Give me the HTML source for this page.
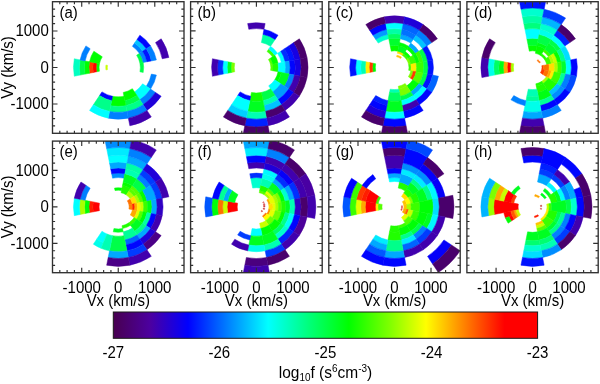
<!DOCTYPE html><html><head><meta charset="utf-8"><style>html,body{margin:0;padding:0;background:#fff;}svg{display:block;filter:blur(0.25px);}text{font-family:"Liberation Sans",sans-serif;fill:#000;}</style></head><body>
<svg width="600" height="384" viewBox="0 0 600 384">
<defs>
<clipPath id="c0"><rect x="52.50" y="1.70" width="131.50" height="131.60"/></clipPath>
<clipPath id="c1"><rect x="190.60" y="1.70" width="131.60" height="131.60"/></clipPath>
<clipPath id="c2"><rect x="328.80" y="1.70" width="131.40" height="131.60"/></clipPath>
<clipPath id="c3"><rect x="466.90" y="1.70" width="131.30" height="131.60"/></clipPath>
<clipPath id="c4"><rect x="52.50" y="141.10" width="131.50" height="131.60"/></clipPath>
<clipPath id="c5"><rect x="190.60" y="141.10" width="131.60" height="131.60"/></clipPath>
<clipPath id="c6"><rect x="328.80" y="141.10" width="131.40" height="131.60"/></clipPath>
<clipPath id="c7"><rect x="466.90" y="141.10" width="131.30" height="131.60"/></clipPath>
<linearGradient id="cb" x1="0" x2="1" y1="0" y2="0">
<stop offset="0.000" stop-color="#480050"/>
<stop offset="0.087" stop-color="#4c00a0"/>
<stop offset="0.176" stop-color="#0000ff"/>
<stop offset="0.270" stop-color="#0080ff"/>
<stop offset="0.365" stop-color="#00ffff"/>
<stop offset="0.463" stop-color="#00ff78"/>
<stop offset="0.555" stop-color="#00ff00"/>
<stop offset="0.652" stop-color="#80ff00"/>
<stop offset="0.737" stop-color="#ffff00"/>
<stop offset="0.840" stop-color="#ff7000"/>
<stop offset="0.922" stop-color="#ff0000"/>
<stop offset="1.000" stop-color="#ff0000"/>
</linearGradient>
</defs>
<g clip-path="url(#c0)">
<path d="M105.95 65.05 A12.54 12.54 0 0 0 105.95 69.95 L107.57 69.62 A10.89 10.89 0 0 1 107.57 65.38 Z" fill="#c8ff00" stroke="#c8ff00" stroke-width="0.5"/>
<path d="M96.58 63.19 A22.09 22.09 0 0 0 96.58 71.81 L99.44 71.24 A19.18 19.18 0 0 1 99.44 63.76 Z" fill="#00ff00" stroke="#00ff00" stroke-width="0.5"/>
<path d="M93.29 62.53 A25.45 25.45 0 0 0 93.29 72.47 L96.58 71.81 A22.09 22.09 0 0 1 96.58 63.19 Z" fill="#ff0000" stroke="#ff0000" stroke-width="0.5"/>
<path d="M89.49 61.78 A29.32 29.32 0 0 0 89.49 73.22 L93.29 72.47 A25.45 25.45 0 0 1 93.29 62.53 Z" fill="#ff3900" stroke="#ff3900" stroke-width="0.5"/>
<path d="M85.12 60.91 A33.77 33.77 0 0 0 85.12 74.09 L89.49 73.22 A29.32 29.32 0 0 1 89.49 61.78 Z" fill="#00ff00" stroke="#00ff00" stroke-width="0.5"/>
<path d="M80.09 59.91 A38.91 38.91 0 0 0 80.09 75.09 L85.12 74.09 A33.77 33.77 0 0 1 85.12 60.91 Z" fill="#00ff48" stroke="#00ff48" stroke-width="0.5"/>
<path d="M74.29 58.76 A44.82 44.82 0 0 0 74.29 76.24 L80.09 75.09 A38.91 38.91 0 0 1 80.09 59.91 Z" fill="#00ffc1" stroke="#00ffc1" stroke-width="0.5"/>
<path d="M93.87 51.21 A29.32 29.32 0 0 0 89.49 61.78 L99.44 63.76 A19.18 19.18 0 0 1 102.30 56.85 Z" fill="#00ff00" stroke="#00ff00" stroke-width="0.5"/>
<path d="M85.90 45.88 A38.91 38.91 0 0 0 80.09 59.91 L85.12 60.91 A33.77 33.77 0 0 1 90.17 48.74 Z" fill="#0080ff" stroke="#0080ff" stroke-width="0.5"/>
<path d="M142.63 51.21 A29.32 29.32 0 0 0 134.54 43.12 L132.39 46.34 A25.45 25.45 0 0 1 139.41 53.36 Z" fill="#0080ff" stroke="#0080ff" stroke-width="0.5"/>
<path d="M146.33 48.74 A33.77 33.77 0 0 0 137.01 39.42 L134.54 43.12 A29.32 29.32 0 0 1 142.63 51.21 Z" fill="#00c3ff" stroke="#00c3ff" stroke-width="0.5"/>
<path d="M150.60 45.88 A38.91 38.91 0 0 0 139.87 35.15 L137.01 39.42 A33.77 33.77 0 0 1 146.33 48.74 Z" fill="#0005ff" stroke="#0005ff" stroke-width="0.5"/>
<path d="M143.21 62.53 A25.45 25.45 0 0 0 139.41 53.36 L136.62 55.23 A22.09 22.09 0 0 1 139.92 63.19 Z" fill="#00ff48" stroke="#00ff48" stroke-width="0.5"/>
<path d="M147.01 61.78 A29.32 29.32 0 0 0 142.63 51.21 L139.41 53.36 A25.45 25.45 0 0 1 143.21 62.53 Z" fill="#0080ff" stroke="#0080ff" stroke-width="0.5"/>
<path d="M151.38 60.91 A33.77 33.77 0 0 0 146.33 48.74 L142.63 51.21 A29.32 29.32 0 0 1 147.01 61.78 Z" fill="#0013ff" stroke="#0013ff" stroke-width="0.5"/>
<path d="M156.41 59.91 A38.91 38.91 0 0 0 150.60 45.88 L146.33 48.74 A33.77 33.77 0 0 1 151.38 60.91 Z" fill="#0080ff" stroke="#0080ff" stroke-width="0.5"/>
<path d="M168.89 57.43 A51.64 51.64 0 0 0 161.18 38.81 L155.52 42.60 A44.82 44.82 0 0 1 162.21 58.76 Z" fill="#4100ae" stroke="#4100ae" stroke-width="0.5"/>
<path d="M143.21 72.47 A25.45 25.45 0 0 0 143.21 62.53 L139.92 63.19 A22.09 22.09 0 0 1 139.92 71.81 Z" fill="#00ff48" stroke="#00ff48" stroke-width="0.5"/>
<path d="M150.60 89.12 A38.91 38.91 0 0 0 156.41 75.09 L151.38 74.09 A33.77 33.77 0 0 1 146.33 86.26 Z" fill="#0080ff" stroke="#0080ff" stroke-width="0.5"/>
<path d="M139.87 99.85 A38.91 38.91 0 0 0 150.60 89.12 L142.63 83.79 A29.32 29.32 0 0 1 134.54 91.88 Z" fill="#00ffff" stroke="#00ffff" stroke-width="0.5"/>
<path d="M143.15 104.77 A44.82 44.82 0 0 0 155.52 92.40 L150.60 89.12 A38.91 38.91 0 0 1 139.87 99.85 Z" fill="#0080ff" stroke="#0080ff" stroke-width="0.5"/>
<path d="M146.94 110.43 A51.64 51.64 0 0 0 161.18 96.19 L155.52 92.40 A44.82 44.82 0 0 1 143.15 104.77 Z" fill="#1f00d9" stroke="#1f00d9" stroke-width="0.5"/>
<path d="M124.84 100.63 A33.77 33.77 0 0 0 137.01 95.58 L132.39 88.66 A25.45 25.45 0 0 1 123.22 92.46 Z" fill="#00ff00" stroke="#00ff00" stroke-width="0.5"/>
<path d="M125.84 105.66 A38.91 38.91 0 0 0 139.87 99.85 L137.01 95.58 A33.77 33.77 0 0 1 124.84 100.63 Z" fill="#00ff48" stroke="#00ff48" stroke-width="0.5"/>
<path d="M126.99 111.46 A44.82 44.82 0 0 0 143.15 104.77 L139.87 99.85 A38.91 38.91 0 0 1 125.84 105.66 Z" fill="#00ff8a" stroke="#00ff8a" stroke-width="0.5"/>
<path d="M128.32 118.14 A51.64 51.64 0 0 0 146.94 110.43 L143.15 104.77 A44.82 44.82 0 0 1 126.99 111.46 Z" fill="#0080ff" stroke="#0080ff" stroke-width="0.5"/>
<path d="M129.85 125.84 A59.48 59.48 0 0 0 151.30 116.96 L146.94 110.43 A51.64 51.64 0 0 1 128.32 118.14 Z" fill="#4100ae" stroke="#4100ae" stroke-width="0.5"/>
<path d="M110.66 105.66 A38.91 38.91 0 0 0 125.84 105.66 L123.97 96.26 A29.32 29.32 0 0 1 112.53 96.26 Z" fill="#00ff00" stroke="#00ff00" stroke-width="0.5"/>
<path d="M109.51 111.46 A44.82 44.82 0 0 0 126.99 111.46 L125.84 105.66 A38.91 38.91 0 0 1 110.66 105.66 Z" fill="#00ff8a" stroke="#00ff8a" stroke-width="0.5"/>
<path d="M108.18 118.14 A51.64 51.64 0 0 0 128.32 118.14 L126.99 111.46 A44.82 44.82 0 0 1 109.51 111.46 Z" fill="#0080ff" stroke="#0080ff" stroke-width="0.5"/>
<path d="M99.49 95.58 A33.77 33.77 0 0 0 111.66 100.63 L112.53 96.26 A29.32 29.32 0 0 1 101.96 91.88 Z" fill="#0005ff" stroke="#0005ff" stroke-width="0.5"/>
<path d="M93.35 104.77 A44.82 44.82 0 0 0 109.51 111.46 L111.66 100.63 A33.77 33.77 0 0 1 99.49 95.58 Z" fill="#00ff8a" stroke="#00ff8a" stroke-width="0.5"/>
<path d="M89.56 110.43 A51.64 51.64 0 0 0 108.18 118.14 L109.51 111.46 A44.82 44.82 0 0 1 93.35 104.77 Z" fill="#00ffff" stroke="#00ffff" stroke-width="0.5"/>
</g>
<rect x="52.50" y="1.70" width="131.50" height="131.60" fill="none" stroke="#303030" stroke-width="1.35"/>
<path d="M59.81 1.70v2.60M59.81 133.30v-2.60M52.50 125.94h2.60M184.00 125.94h-2.60M67.11 1.70v2.60M67.11 133.30v-2.60M52.50 118.64h2.60M184.00 118.64h-2.60M74.42 1.70v2.60M74.42 133.30v-2.60M52.50 111.33h2.60M184.00 111.33h-2.60M81.72 1.70v5.00M81.72 133.30v-5.00M52.50 104.03h5.00M184.00 104.03h-5.00M89.03 1.70v2.60M89.03 133.30v-2.60M52.50 96.72h2.60M184.00 96.72h-2.60M96.33 1.70v2.60M96.33 133.30v-2.60M52.50 89.42h2.60M184.00 89.42h-2.60M103.64 1.70v2.60M103.64 133.30v-2.60M52.50 82.11h2.60M184.00 82.11h-2.60M110.94 1.70v2.60M110.94 133.30v-2.60M52.50 74.81h2.60M184.00 74.81h-2.60M118.25 1.70v5.00M118.25 133.30v-5.00M52.50 67.50h5.00M184.00 67.50h-5.00M125.56 1.70v2.60M125.56 133.30v-2.60M52.50 60.19h2.60M184.00 60.19h-2.60M132.86 1.70v2.60M132.86 133.30v-2.60M52.50 52.89h2.60M184.00 52.89h-2.60M140.17 1.70v2.60M140.17 133.30v-2.60M52.50 45.58h2.60M184.00 45.58h-2.60M147.47 1.70v2.60M147.47 133.30v-2.60M52.50 38.28h2.60M184.00 38.28h-2.60M154.78 1.70v5.00M154.78 133.30v-5.00M52.50 30.97h5.00M184.00 30.97h-5.00M162.08 1.70v2.60M162.08 133.30v-2.60M52.50 23.67h2.60M184.00 23.67h-2.60M169.39 1.70v2.60M169.39 133.30v-2.60M52.50 16.36h2.60M184.00 16.36h-2.60M176.69 1.70v2.60M176.69 133.30v-2.60M52.50 9.06h2.60M184.00 9.06h-2.60" stroke="#303030" stroke-width="1.15" fill="none"/>
<text transform="translate(59.50 17.50) scale(1 1.070)" font-size="15">(a)</text>
<text transform="translate(48.80 36.37) scale(1 1.070)" font-size="15" text-anchor="end">1000</text>
<text transform="translate(48.80 72.90) scale(1 1.070)" font-size="15" text-anchor="end">0</text>
<text transform="translate(48.80 109.43) scale(1 1.070)" font-size="15" text-anchor="end">-1000</text>
<text transform="translate(13.20 67.50) rotate(-90) scale(1 1.070)" font-size="15" text-anchor="middle">Vy (km/s)</text>
<g clip-path="url(#c1)">
<path d="M231.44 62.53 A25.45 25.45 0 0 0 231.44 72.47 L234.73 71.81 A22.09 22.09 0 0 1 234.73 63.19 Z" fill="#7dff00" stroke="#7dff00" stroke-width="0.5"/>
<path d="M227.64 61.78 A29.32 29.32 0 0 0 227.64 73.22 L231.44 72.47 A25.45 25.45 0 0 1 231.44 62.53 Z" fill="#00ff21" stroke="#00ff21" stroke-width="0.5"/>
<path d="M223.27 60.91 A33.77 33.77 0 0 0 223.27 74.09 L227.64 73.22 A29.32 29.32 0 0 1 227.64 61.78 Z" fill="#00ffff" stroke="#00ffff" stroke-width="0.5"/>
<path d="M218.24 59.91 A38.91 38.91 0 0 0 218.24 75.09 L223.27 74.09 A33.77 33.77 0 0 1 223.27 60.91 Z" fill="#002eff" stroke="#002eff" stroke-width="0.5"/>
<path d="M212.44 58.76 A44.82 44.82 0 0 0 212.44 76.24 L218.24 75.09 A38.91 38.91 0 0 1 218.24 59.91 Z" fill="#4100ae" stroke="#4100ae" stroke-width="0.5"/>
<path d="M265.14 23.54 A44.82 44.82 0 0 0 247.66 23.54 L248.81 29.34 A38.91 38.91 0 0 1 263.99 29.34 Z" fill="#4100ae" stroke="#4100ae" stroke-width="0.5"/>
<path d="M275.16 39.42 A33.77 33.77 0 0 0 262.99 34.37 L261.37 42.54 A25.45 25.45 0 0 1 270.54 46.34 Z" fill="#00ffa5" stroke="#00ffa5" stroke-width="0.5"/>
<path d="M278.02 35.15 A38.91 38.91 0 0 0 263.99 29.34 L262.99 34.37 A33.77 33.77 0 0 1 275.16 39.42 Z" fill="#0005ff" stroke="#0005ff" stroke-width="0.5"/>
<path d="M274.77 55.23 A22.09 22.09 0 0 0 268.67 49.13 L267.05 51.55 A19.18 19.18 0 0 1 272.35 56.85 Z" fill="#3bff00" stroke="#3bff00" stroke-width="0.5"/>
<path d="M277.56 53.36 A25.45 25.45 0 0 0 270.54 46.34 L268.67 49.13 A22.09 22.09 0 0 1 274.77 55.23 Z" fill="#00ffff" stroke="#00ffff" stroke-width="0.5"/>
<path d="M272.73 64.25 A16.65 16.65 0 0 0 270.24 58.25 L268.42 59.47 A14.45 14.45 0 0 1 270.57 64.68 Z" fill="#56ff00" stroke="#56ff00" stroke-width="0.5"/>
<path d="M278.07 63.19 A22.09 22.09 0 0 0 274.77 55.23 L270.24 58.25 A16.65 16.65 0 0 1 272.73 64.25 Z" fill="#00ff00" stroke="#00ff00" stroke-width="0.5"/>
<path d="M285.16 61.78 A29.32 29.32 0 0 0 280.78 51.21 L277.56 53.36 A25.45 25.45 0 0 1 281.36 62.53 Z" fill="#00ffff" stroke="#00ffff" stroke-width="0.5"/>
<path d="M289.53 60.91 A33.77 33.77 0 0 0 284.48 48.74 L280.78 51.21 A29.32 29.32 0 0 1 285.16 61.78 Z" fill="#002eff" stroke="#002eff" stroke-width="0.5"/>
<path d="M294.56 59.91 A38.91 38.91 0 0 0 288.75 45.88 L284.48 48.74 A33.77 33.77 0 0 1 289.53 60.91 Z" fill="#0013ff" stroke="#0013ff" stroke-width="0.5"/>
<path d="M300.36 58.76 A44.82 44.82 0 0 0 293.67 42.60 L288.75 45.88 A38.91 38.91 0 0 1 294.56 59.91 Z" fill="#1600e3" stroke="#1600e3" stroke-width="0.5"/>
<path d="M307.04 57.43 A51.64 51.64 0 0 0 299.33 38.81 L293.67 42.60 A44.82 44.82 0 0 1 300.36 58.76 Z" fill="#49006c" stroke="#49006c" stroke-width="0.5"/>
<path d="M272.73 70.75 A16.65 16.65 0 0 0 272.73 64.25 L270.57 64.68 A14.45 14.45 0 0 1 270.57 70.32 Z" fill="#56ff00" stroke="#56ff00" stroke-width="0.5"/>
<path d="M278.07 71.81 A22.09 22.09 0 0 0 278.07 63.19 L272.73 64.25 A16.65 16.65 0 0 1 272.73 70.75 Z" fill="#21ff00" stroke="#21ff00" stroke-width="0.5"/>
<path d="M285.16 73.22 A29.32 29.32 0 0 0 285.16 61.78 L278.07 63.19 A22.09 22.09 0 0 1 278.07 71.81 Z" fill="#00ffff" stroke="#00ffff" stroke-width="0.5"/>
<path d="M289.53 74.09 A33.77 33.77 0 0 0 289.53 60.91 L285.16 61.78 A29.32 29.32 0 0 1 285.16 73.22 Z" fill="#00a8ff" stroke="#00a8ff" stroke-width="0.5"/>
<path d="M294.56 75.09 A38.91 38.91 0 0 0 294.56 59.91 L289.53 60.91 A33.77 33.77 0 0 1 289.53 74.09 Z" fill="#0005ff" stroke="#0005ff" stroke-width="0.5"/>
<path d="M300.36 76.24 A44.82 44.82 0 0 0 300.36 58.76 L294.56 59.91 A38.91 38.91 0 0 1 294.56 75.09 Z" fill="#1600e3" stroke="#1600e3" stroke-width="0.5"/>
<path d="M307.04 77.57 A51.64 51.64 0 0 0 307.04 57.43 L300.36 58.76 A44.82 44.82 0 0 1 300.36 76.24 Z" fill="#49006c" stroke="#49006c" stroke-width="0.5"/>
<path d="M277.56 81.64 A25.45 25.45 0 0 0 281.36 72.47 L278.07 71.81 A22.09 22.09 0 0 1 274.77 79.77 Z" fill="#00ff00" stroke="#00ff00" stroke-width="0.5"/>
<path d="M284.48 86.26 A33.77 33.77 0 0 0 289.53 74.09 L281.36 72.47 A25.45 25.45 0 0 1 277.56 81.64 Z" fill="#00ff21" stroke="#00ff21" stroke-width="0.5"/>
<path d="M288.75 89.12 A38.91 38.91 0 0 0 294.56 75.09 L289.53 74.09 A33.77 33.77 0 0 1 284.48 86.26 Z" fill="#0080ff" stroke="#0080ff" stroke-width="0.5"/>
<path d="M293.67 92.40 A44.82 44.82 0 0 0 300.36 76.24 L294.56 75.09 A38.91 38.91 0 0 1 288.75 89.12 Z" fill="#4100ae" stroke="#4100ae" stroke-width="0.5"/>
<path d="M299.33 96.19 A51.64 51.64 0 0 0 307.04 77.57 L300.36 76.24 A44.82 44.82 0 0 1 293.67 92.40 Z" fill="#49006c" stroke="#49006c" stroke-width="0.5"/>
<path d="M272.69 91.88 A29.32 29.32 0 0 0 280.78 83.79 L274.77 79.77 A22.09 22.09 0 0 1 268.67 85.87 Z" fill="#00ffff" stroke="#00ffff" stroke-width="0.5"/>
<path d="M278.02 99.85 A38.91 38.91 0 0 0 288.75 89.12 L280.78 83.79 A29.32 29.32 0 0 1 272.69 91.88 Z" fill="#009bff" stroke="#009bff" stroke-width="0.5"/>
<path d="M281.30 104.77 A44.82 44.82 0 0 0 293.67 92.40 L288.75 89.12 A38.91 38.91 0 0 1 278.02 99.85 Z" fill="#0005ff" stroke="#0005ff" stroke-width="0.5"/>
<path d="M285.09 110.43 A51.64 51.64 0 0 0 299.33 96.19 L293.67 92.40 A44.82 44.82 0 0 1 281.30 104.77 Z" fill="#4100ae" stroke="#4100ae" stroke-width="0.5"/>
<path d="M262.99 100.63 A33.77 33.77 0 0 0 275.16 95.58 L270.54 88.66 A25.45 25.45 0 0 1 261.37 92.46 Z" fill="#00ff48" stroke="#00ff48" stroke-width="0.5"/>
<path d="M263.99 105.66 A38.91 38.91 0 0 0 278.02 99.85 L275.16 95.58 A33.77 33.77 0 0 1 262.99 100.63 Z" fill="#00ffb3" stroke="#00ffb3" stroke-width="0.5"/>
<path d="M265.14 111.46 A44.82 44.82 0 0 0 281.30 104.77 L278.02 99.85 A38.91 38.91 0 0 1 263.99 105.66 Z" fill="#00c3ff" stroke="#00c3ff" stroke-width="0.5"/>
<path d="M266.47 118.14 A51.64 51.64 0 0 0 285.09 110.43 L281.30 104.77 A44.82 44.82 0 0 1 265.14 111.46 Z" fill="#49006c" stroke="#49006c" stroke-width="0.5"/>
<path d="M268.00 125.84 A59.48 59.48 0 0 0 289.45 116.96 L285.09 110.43 A51.64 51.64 0 0 1 266.47 118.14 Z" fill="#4100ae" stroke="#4100ae" stroke-width="0.5"/>
<path d="M249.81 100.63 A33.77 33.77 0 0 0 262.99 100.63 L261.37 92.46 A25.45 25.45 0 0 1 251.43 92.46 Z" fill="#14ff00" stroke="#14ff00" stroke-width="0.5"/>
<path d="M247.66 111.46 A44.82 44.82 0 0 0 265.14 111.46 L262.99 100.63 A33.77 33.77 0 0 1 249.81 100.63 Z" fill="#00ff21" stroke="#00ff21" stroke-width="0.5"/>
<path d="M246.33 118.14 A51.64 51.64 0 0 0 266.47 118.14 L265.14 111.46 A44.82 44.82 0 0 1 247.66 111.46 Z" fill="#00ffb3" stroke="#00ffb3" stroke-width="0.5"/>
<path d="M244.80 125.84 A59.48 59.48 0 0 0 268.00 125.84 L266.47 118.14 A51.64 51.64 0 0 1 246.33 118.14 Z" fill="#0021ff" stroke="#0021ff" stroke-width="0.5"/>
<path d="M243.03 134.71 A68.53 68.53 0 0 0 269.77 134.71 L268.00 125.84 A59.48 59.48 0 0 1 244.80 125.84 Z" fill="#49006c" stroke="#49006c" stroke-width="0.5"/>
<path d="M237.64 95.58 A33.77 33.77 0 0 0 249.81 100.63 L250.68 96.26 A29.32 29.32 0 0 1 240.11 91.88 Z" fill="#0005ff" stroke="#0005ff" stroke-width="0.5"/>
<path d="M231.50 104.77 A44.82 44.82 0 0 0 247.66 111.46 L249.81 100.63 A33.77 33.77 0 0 1 237.64 95.58 Z" fill="#00ffff" stroke="#00ffff" stroke-width="0.5"/>
<path d="M227.71 110.43 A51.64 51.64 0 0 0 246.33 118.14 L247.66 111.46 A44.82 44.82 0 0 1 231.50 104.77 Z" fill="#00d0ff" stroke="#00d0ff" stroke-width="0.5"/>
<path d="M223.35 116.96 A59.48 59.48 0 0 0 244.80 125.84 L246.33 118.14 A51.64 51.64 0 0 1 227.71 110.43 Z" fill="#49006c" stroke="#49006c" stroke-width="0.5"/>
</g>
<rect x="190.60" y="1.70" width="131.60" height="131.60" fill="none" stroke="#303030" stroke-width="1.35"/>
<path d="M197.91 1.70v2.60M197.91 133.30v-2.60M190.60 125.99h2.60M322.20 125.99h-2.60M205.22 1.70v2.60M205.22 133.30v-2.60M190.60 118.68h2.60M322.20 118.68h-2.60M212.53 1.70v2.60M212.53 133.30v-2.60M190.60 111.37h2.60M322.20 111.37h-2.60M219.84 1.70v5.00M219.84 133.30v-5.00M190.60 104.06h5.00M322.20 104.06h-5.00M227.16 1.70v2.60M227.16 133.30v-2.60M190.60 96.74h2.60M322.20 96.74h-2.60M234.47 1.70v2.60M234.47 133.30v-2.60M190.60 89.43h2.60M322.20 89.43h-2.60M241.78 1.70v2.60M241.78 133.30v-2.60M190.60 82.12h2.60M322.20 82.12h-2.60M249.09 1.70v2.60M249.09 133.30v-2.60M190.60 74.81h2.60M322.20 74.81h-2.60M256.40 1.70v5.00M256.40 133.30v-5.00M190.60 67.50h5.00M322.20 67.50h-5.00M263.71 1.70v2.60M263.71 133.30v-2.60M190.60 60.19h2.60M322.20 60.19h-2.60M271.02 1.70v2.60M271.02 133.30v-2.60M190.60 52.88h2.60M322.20 52.88h-2.60M278.33 1.70v2.60M278.33 133.30v-2.60M190.60 45.57h2.60M322.20 45.57h-2.60M285.64 1.70v2.60M285.64 133.30v-2.60M190.60 38.26h2.60M322.20 38.26h-2.60M292.96 1.70v5.00M292.96 133.30v-5.00M190.60 30.94h5.00M322.20 30.94h-5.00M300.27 1.70v2.60M300.27 133.30v-2.60M190.60 23.63h2.60M322.20 23.63h-2.60M307.58 1.70v2.60M307.58 133.30v-2.60M190.60 16.32h2.60M322.20 16.32h-2.60M314.89 1.70v2.60M314.89 133.30v-2.60M190.60 9.01h2.60M322.20 9.01h-2.60" stroke="#303030" stroke-width="1.15" fill="none"/>
<text transform="translate(197.60 17.50) scale(1 1.070)" font-size="15">(b)</text>
<g clip-path="url(#c2)">
<path d="M372.83 63.19 A22.09 22.09 0 0 0 372.83 71.81 L375.69 71.24 A19.18 19.18 0 0 1 375.69 63.76 Z" fill="#00ff00" stroke="#00ff00" stroke-width="0.5"/>
<path d="M369.54 62.53 A25.45 25.45 0 0 0 369.54 72.47 L372.83 71.81 A22.09 22.09 0 0 1 372.83 63.19 Z" fill="#ff3900" stroke="#ff3900" stroke-width="0.5"/>
<path d="M365.74 61.78 A29.32 29.32 0 0 0 365.74 73.22 L369.54 72.47 A25.45 25.45 0 0 1 369.54 62.53 Z" fill="#ffed00" stroke="#ffed00" stroke-width="0.5"/>
<path d="M361.37 60.91 A33.77 33.77 0 0 0 361.37 74.09 L365.74 73.22 A29.32 29.32 0 0 1 365.74 61.78 Z" fill="#00ffb3" stroke="#00ffb3" stroke-width="0.5"/>
<path d="M356.34 59.91 A38.91 38.91 0 0 0 356.34 75.09 L361.37 74.09 A33.77 33.77 0 0 1 361.37 60.91 Z" fill="#00ffff" stroke="#00ffff" stroke-width="0.5"/>
<path d="M350.54 58.76 A44.82 44.82 0 0 0 350.54 76.24 L356.34 75.09 A38.91 38.91 0 0 1 356.34 59.91 Z" fill="#0013ff" stroke="#0013ff" stroke-width="0.5"/>
<path d="M387.91 34.37 A33.77 33.77 0 0 0 375.74 39.42 L378.21 43.12 A29.32 29.32 0 0 1 388.78 38.74 Z" fill="#00ffcf" stroke="#00ffcf" stroke-width="0.5"/>
<path d="M386.91 29.34 A38.91 38.91 0 0 0 372.88 35.15 L375.74 39.42 A33.77 33.77 0 0 1 387.91 34.37 Z" fill="#009bff" stroke="#009bff" stroke-width="0.5"/>
<path d="M385.76 23.54 A44.82 44.82 0 0 0 369.60 30.23 L372.88 35.15 A38.91 38.91 0 0 1 386.91 29.34 Z" fill="#0005ff" stroke="#0005ff" stroke-width="0.5"/>
<path d="M384.43 16.86 A51.64 51.64 0 0 0 365.81 24.57 L369.60 30.23 A44.82 44.82 0 0 1 385.76 23.54 Z" fill="#49006c" stroke="#49006c" stroke-width="0.5"/>
<path d="M398.81 45.83 A22.09 22.09 0 0 0 390.19 45.83 L391.25 51.17 A16.65 16.65 0 0 1 397.75 51.17 Z" fill="#07ff00" stroke="#07ff00" stroke-width="0.5"/>
<path d="M400.22 38.74 A29.32 29.32 0 0 0 388.78 38.74 L390.19 45.83 A22.09 22.09 0 0 1 398.81 45.83 Z" fill="#00ff2e" stroke="#00ff2e" stroke-width="0.5"/>
<path d="M401.09 34.37 A33.77 33.77 0 0 0 387.91 34.37 L388.78 38.74 A29.32 29.32 0 0 1 400.22 38.74 Z" fill="#00ff62" stroke="#00ff62" stroke-width="0.5"/>
<path d="M402.09 29.34 A38.91 38.91 0 0 0 386.91 29.34 L387.91 34.37 A33.77 33.77 0 0 1 401.09 34.37 Z" fill="#00ffa5" stroke="#00ffa5" stroke-width="0.5"/>
<path d="M403.24 23.54 A44.82 44.82 0 0 0 385.76 23.54 L386.91 29.34 A38.91 38.91 0 0 1 402.09 29.34 Z" fill="#00ffff" stroke="#00ffff" stroke-width="0.5"/>
<path d="M404.57 16.86 A51.64 51.64 0 0 0 384.43 16.86 L385.76 23.54 A44.82 44.82 0 0 1 403.24 23.54 Z" fill="#4100ae" stroke="#4100ae" stroke-width="0.5"/>
<path d="M401.47 57.07 A12.54 12.54 0 0 0 396.95 55.20 L396.62 56.82 A10.89 10.89 0 0 1 400.55 58.45 Z" fill="#ffc300" stroke="#ffc300" stroke-width="0.5"/>
<path d="M403.75 53.66 A16.65 16.65 0 0 0 397.75 51.17 L397.32 53.33 A14.45 14.45 0 0 1 402.53 55.48 Z" fill="#ffdf00" stroke="#ffdf00" stroke-width="0.5"/>
<path d="M406.77 49.13 A22.09 22.09 0 0 0 398.81 45.83 L397.75 51.17 A16.65 16.65 0 0 1 403.75 53.66 Z" fill="#00ff21" stroke="#00ff21" stroke-width="0.5"/>
<path d="M408.64 46.34 A25.45 25.45 0 0 0 399.47 42.54 L398.81 45.83 A22.09 22.09 0 0 1 406.77 49.13 Z" fill="#00ff07" stroke="#00ff07" stroke-width="0.5"/>
<path d="M413.26 39.42 A33.77 33.77 0 0 0 401.09 34.37 L400.22 38.74 A29.32 29.32 0 0 1 410.79 43.12 Z" fill="#00a8ff" stroke="#00a8ff" stroke-width="0.5"/>
<path d="M416.12 35.15 A38.91 38.91 0 0 0 402.09 29.34 L401.09 34.37 A33.77 33.77 0 0 1 413.26 39.42 Z" fill="#0072ff" stroke="#0072ff" stroke-width="0.5"/>
<path d="M419.40 30.23 A44.82 44.82 0 0 0 403.24 23.54 L402.09 29.34 A38.91 38.91 0 0 1 416.12 35.15 Z" fill="#0065ff" stroke="#0065ff" stroke-width="0.5"/>
<path d="M423.19 24.57 A51.64 51.64 0 0 0 404.57 16.86 L403.24 23.54 A44.82 44.82 0 0 1 419.40 30.23 Z" fill="#1f00d9" stroke="#1f00d9" stroke-width="0.5"/>
<path d="M408.34 58.25 A16.65 16.65 0 0 0 403.75 53.66 L402.53 55.48 A14.45 14.45 0 0 1 406.52 59.47 Z" fill="#3bff00" stroke="#3bff00" stroke-width="0.5"/>
<path d="M410.45 56.85 A19.18 19.18 0 0 0 405.15 51.55 L403.75 53.66 A16.65 16.65 0 0 1 408.34 58.25 Z" fill="#07ff00" stroke="#07ff00" stroke-width="0.5"/>
<path d="M415.66 53.36 A25.45 25.45 0 0 0 408.64 46.34 L406.77 49.13 A22.09 22.09 0 0 1 412.87 55.23 Z" fill="#00ff07" stroke="#00ff07" stroke-width="0.5"/>
<path d="M418.88 51.21 A29.32 29.32 0 0 0 410.79 43.12 L408.64 46.34 A25.45 25.45 0 0 1 415.66 53.36 Z" fill="#00a8ff" stroke="#00a8ff" stroke-width="0.5"/>
<path d="M426.85 45.88 A38.91 38.91 0 0 0 416.12 35.15 L413.26 39.42 A33.77 33.77 0 0 1 422.58 48.74 Z" fill="#00c3ff" stroke="#00c3ff" stroke-width="0.5"/>
<path d="M431.77 42.60 A44.82 44.82 0 0 0 419.40 30.23 L416.12 35.15 A38.91 38.91 0 0 1 426.85 45.88 Z" fill="#0080ff" stroke="#0080ff" stroke-width="0.5"/>
<path d="M437.43 38.81 A51.64 51.64 0 0 0 423.19 24.57 L419.40 30.23 A44.82 44.82 0 0 1 431.77 42.60 Z" fill="#49006c" stroke="#49006c" stroke-width="0.5"/>
<path d="M410.83 64.25 A16.65 16.65 0 0 0 408.34 58.25 L406.52 59.47 A14.45 14.45 0 0 1 408.67 64.68 Z" fill="#7dff00" stroke="#7dff00" stroke-width="0.5"/>
<path d="M416.17 63.19 A22.09 22.09 0 0 0 412.87 55.23 L408.34 58.25 A16.65 16.65 0 0 1 410.83 64.25 Z" fill="#3bff00" stroke="#3bff00" stroke-width="0.5"/>
<path d="M419.46 62.53 A25.45 25.45 0 0 0 415.66 53.36 L412.87 55.23 A22.09 22.09 0 0 1 416.17 63.19 Z" fill="#00ff07" stroke="#00ff07" stroke-width="0.5"/>
<path d="M423.26 61.78 A29.32 29.32 0 0 0 418.88 51.21 L415.66 53.36 A25.45 25.45 0 0 1 419.46 62.53 Z" fill="#3bff00" stroke="#3bff00" stroke-width="0.5"/>
<path d="M427.63 60.91 A33.77 33.77 0 0 0 422.58 48.74 L418.88 51.21 A29.32 29.32 0 0 1 423.26 61.78 Z" fill="#00ff48" stroke="#00ff48" stroke-width="0.5"/>
<path d="M432.66 59.91 A38.91 38.91 0 0 0 426.85 45.88 L422.58 48.74 A33.77 33.77 0 0 1 427.63 60.91 Z" fill="#0013ff" stroke="#0013ff" stroke-width="0.5"/>
<path d="M410.83 70.75 A16.65 16.65 0 0 0 410.83 64.25 L408.67 64.68 A14.45 14.45 0 0 1 408.67 70.32 Z" fill="#3bff00" stroke="#3bff00" stroke-width="0.5"/>
<path d="M416.17 71.81 A22.09 22.09 0 0 0 416.17 63.19 L410.83 64.25 A16.65 16.65 0 0 1 410.83 70.75 Z" fill="#ffed00" stroke="#ffed00" stroke-width="0.5"/>
<path d="M423.26 73.22 A29.32 29.32 0 0 0 423.26 61.78 L416.17 63.19 A22.09 22.09 0 0 1 416.17 71.81 Z" fill="#3bff00" stroke="#3bff00" stroke-width="0.5"/>
<path d="M427.63 74.09 A33.77 33.77 0 0 0 427.63 60.91 L423.26 61.78 A29.32 29.32 0 0 1 423.26 73.22 Z" fill="#00ff48" stroke="#00ff48" stroke-width="0.5"/>
<path d="M432.66 75.09 A38.91 38.91 0 0 0 432.66 59.91 L427.63 60.91 A33.77 33.77 0 0 1 427.63 74.09 Z" fill="#0013ff" stroke="#0013ff" stroke-width="0.5"/>
<path d="M410.45 78.15 A19.18 19.18 0 0 0 413.31 71.24 L410.83 70.75 A16.65 16.65 0 0 1 408.34 76.75 Z" fill="#7dff00" stroke="#7dff00" stroke-width="0.5"/>
<path d="M412.87 79.77 A22.09 22.09 0 0 0 416.17 71.81 L413.31 71.24 A19.18 19.18 0 0 1 410.45 78.15 Z" fill="#ff3900" stroke="#ff3900" stroke-width="0.5"/>
<path d="M418.88 83.79 A29.32 29.32 0 0 0 423.26 73.22 L416.17 71.81 A22.09 22.09 0 0 1 412.87 79.77 Z" fill="#56ff00" stroke="#56ff00" stroke-width="0.5"/>
<path d="M422.58 86.26 A33.77 33.77 0 0 0 427.63 74.09 L423.26 73.22 A29.32 29.32 0 0 1 418.88 83.79 Z" fill="#00ff48" stroke="#00ff48" stroke-width="0.5"/>
<path d="M426.85 89.12 A38.91 38.91 0 0 0 432.66 75.09 L427.63 74.09 A33.77 33.77 0 0 1 422.58 86.26 Z" fill="#0013ff" stroke="#0013ff" stroke-width="0.5"/>
<path d="M431.77 92.40 A44.82 44.82 0 0 0 438.46 76.24 L432.66 75.09 A38.91 38.91 0 0 1 426.85 89.12 Z" fill="#0065ff" stroke="#0065ff" stroke-width="0.5"/>
<path d="M410.79 91.88 A29.32 29.32 0 0 0 418.88 83.79 L412.87 79.77 A22.09 22.09 0 0 1 406.77 85.87 Z" fill="#00ff07" stroke="#00ff07" stroke-width="0.5"/>
<path d="M413.26 95.58 A33.77 33.77 0 0 0 422.58 86.26 L418.88 83.79 A29.32 29.32 0 0 1 410.79 91.88 Z" fill="#00a8ff" stroke="#00a8ff" stroke-width="0.5"/>
<path d="M416.12 99.85 A38.91 38.91 0 0 0 426.85 89.12 L422.58 86.26 A33.77 33.77 0 0 1 413.26 95.58 Z" fill="#00ffff" stroke="#00ffff" stroke-width="0.5"/>
<path d="M419.40 104.77 A44.82 44.82 0 0 0 431.77 92.40 L426.85 89.12 A38.91 38.91 0 0 1 416.12 99.85 Z" fill="#0005ff" stroke="#0005ff" stroke-width="0.5"/>
<path d="M398.81 89.17 A22.09 22.09 0 0 0 406.77 85.87 L405.15 83.45 A19.18 19.18 0 0 1 398.24 86.31 Z" fill="#7dff00" stroke="#7dff00" stroke-width="0.5"/>
<path d="M400.22 96.26 A29.32 29.32 0 0 0 410.79 91.88 L406.77 85.87 A22.09 22.09 0 0 1 398.81 89.17 Z" fill="#7dff00" stroke="#7dff00" stroke-width="0.5"/>
<path d="M401.09 100.63 A33.77 33.77 0 0 0 413.26 95.58 L410.79 91.88 A29.32 29.32 0 0 1 400.22 96.26 Z" fill="#00ff48" stroke="#00ff48" stroke-width="0.5"/>
<path d="M402.09 105.66 A38.91 38.91 0 0 0 416.12 99.85 L413.26 95.58 A33.77 33.77 0 0 1 401.09 100.63 Z" fill="#00ffff" stroke="#00ffff" stroke-width="0.5"/>
<path d="M403.24 111.46 A44.82 44.82 0 0 0 419.40 104.77 L416.12 99.85 A38.91 38.91 0 0 1 402.09 105.66 Z" fill="#4100ae" stroke="#4100ae" stroke-width="0.5"/>
<path d="M404.57 118.14 A51.64 51.64 0 0 0 423.19 110.43 L419.40 104.77 A44.82 44.82 0 0 1 403.24 111.46 Z" fill="#0005ff" stroke="#0005ff" stroke-width="0.5"/>
<path d="M389.53 92.46 A25.45 25.45 0 0 0 399.47 92.46 L398.81 89.17 A22.09 22.09 0 0 1 390.19 89.17 Z" fill="#00ffb3" stroke="#00ffb3" stroke-width="0.5"/>
<path d="M387.91 100.63 A33.77 33.77 0 0 0 401.09 100.63 L399.47 92.46 A25.45 25.45 0 0 1 389.53 92.46 Z" fill="#00ff62" stroke="#00ff62" stroke-width="0.5"/>
<path d="M385.76 111.46 A44.82 44.82 0 0 0 403.24 111.46 L401.09 100.63 A33.77 33.77 0 0 1 387.91 100.63 Z" fill="#00ff21" stroke="#00ff21" stroke-width="0.5"/>
<path d="M384.43 118.14 A51.64 51.64 0 0 0 404.57 118.14 L403.24 111.46 A44.82 44.82 0 0 1 385.76 111.46 Z" fill="#00ffff" stroke="#00ffff" stroke-width="0.5"/>
<path d="M382.90 125.84 A59.48 59.48 0 0 0 406.10 125.84 L404.57 118.14 A51.64 51.64 0 0 1 384.43 118.14 Z" fill="#0005ff" stroke="#0005ff" stroke-width="0.5"/>
<path d="M381.13 134.71 A68.53 68.53 0 0 0 407.87 134.71 L406.10 125.84 A59.48 59.48 0 0 1 382.90 125.84 Z" fill="#49006c" stroke="#49006c" stroke-width="0.5"/>
<path d="M372.88 99.85 A38.91 38.91 0 0 0 386.91 105.66 L387.91 100.63 A33.77 33.77 0 0 1 375.74 95.58 Z" fill="#0021ff" stroke="#0021ff" stroke-width="0.5"/>
<path d="M369.60 104.77 A44.82 44.82 0 0 0 385.76 111.46 L386.91 105.66 A38.91 38.91 0 0 1 372.88 99.85 Z" fill="#0005ff" stroke="#0005ff" stroke-width="0.5"/>
<path d="M365.81 110.43 A51.64 51.64 0 0 0 384.43 118.14 L385.76 111.46 A44.82 44.82 0 0 1 369.60 104.77 Z" fill="#1f00d9" stroke="#1f00d9" stroke-width="0.5"/>
<path d="M361.45 116.96 A59.48 59.48 0 0 0 382.90 125.84 L384.43 118.14 A51.64 51.64 0 0 1 365.81 110.43 Z" fill="#49006c" stroke="#49006c" stroke-width="0.5"/>
</g>
<rect x="328.80" y="1.70" width="131.40" height="131.60" fill="none" stroke="#303030" stroke-width="1.35"/>
<path d="M336.10 1.70v2.60M336.10 133.30v-2.60M328.80 125.90h2.60M460.20 125.90h-2.60M343.40 1.70v2.60M343.40 133.30v-2.60M328.80 118.60h2.60M460.20 118.60h-2.60M350.70 1.70v2.60M350.70 133.30v-2.60M328.80 111.30h2.60M460.20 111.30h-2.60M358.00 1.70v5.00M358.00 133.30v-5.00M328.80 104.00h5.00M460.20 104.00h-5.00M365.30 1.70v2.60M365.30 133.30v-2.60M328.80 96.70h2.60M460.20 96.70h-2.60M372.60 1.70v2.60M372.60 133.30v-2.60M328.80 89.40h2.60M460.20 89.40h-2.60M379.90 1.70v2.60M379.90 133.30v-2.60M328.80 82.10h2.60M460.20 82.10h-2.60M387.20 1.70v2.60M387.20 133.30v-2.60M328.80 74.80h2.60M460.20 74.80h-2.60M394.50 1.70v5.00M394.50 133.30v-5.00M328.80 67.50h5.00M460.20 67.50h-5.00M401.80 1.70v2.60M401.80 133.30v-2.60M328.80 60.20h2.60M460.20 60.20h-2.60M409.10 1.70v2.60M409.10 133.30v-2.60M328.80 52.90h2.60M460.20 52.90h-2.60M416.40 1.70v2.60M416.40 133.30v-2.60M328.80 45.60h2.60M460.20 45.60h-2.60M423.70 1.70v2.60M423.70 133.30v-2.60M328.80 38.30h2.60M460.20 38.30h-2.60M431.00 1.70v5.00M431.00 133.30v-5.00M328.80 31.00h5.00M460.20 31.00h-5.00M438.30 1.70v2.60M438.30 133.30v-2.60M328.80 23.70h2.60M460.20 23.70h-2.60M445.60 1.70v2.60M445.60 133.30v-2.60M328.80 16.40h2.60M460.20 16.40h-2.60M452.90 1.70v2.60M452.90 133.30v-2.60M328.80 9.10h2.60M460.20 9.10h-2.60" stroke="#303030" stroke-width="1.15" fill="none"/>
<text transform="translate(335.80 17.50) scale(1 1.070)" font-size="15">(c)</text>
<g clip-path="url(#c3)">
<path d="M510.88 63.19 A22.09 22.09 0 0 0 510.88 71.81 L513.74 71.24 A19.18 19.18 0 0 1 513.74 63.76 Z" fill="#aaff00" stroke="#aaff00" stroke-width="0.5"/>
<path d="M507.59 62.53 A25.45 25.45 0 0 0 507.59 72.47 L510.88 71.81 A22.09 22.09 0 0 1 510.88 63.19 Z" fill="#ff0000" stroke="#ff0000" stroke-width="0.5"/>
<path d="M503.79 61.78 A29.32 29.32 0 0 0 503.79 73.22 L507.59 72.47 A25.45 25.45 0 0 1 507.59 62.53 Z" fill="#ffa800" stroke="#ffa800" stroke-width="0.5"/>
<path d="M499.42 60.91 A33.77 33.77 0 0 0 499.42 74.09 L503.79 73.22 A29.32 29.32 0 0 1 503.79 61.78 Z" fill="#00ff14" stroke="#00ff14" stroke-width="0.5"/>
<path d="M494.39 59.91 A38.91 38.91 0 0 0 494.39 75.09 L499.42 74.09 A33.77 33.77 0 0 1 499.42 60.91 Z" fill="#00ff62" stroke="#00ff62" stroke-width="0.5"/>
<path d="M488.59 58.76 A44.82 44.82 0 0 0 488.59 76.24 L494.39 75.09 A38.91 38.91 0 0 1 494.39 59.91 Z" fill="#00ffea" stroke="#00ffea" stroke-width="0.5"/>
<path d="M481.91 57.43 A51.64 51.64 0 0 0 481.91 77.57 L488.59 76.24 A44.82 44.82 0 0 1 488.59 58.76 Z" fill="#4100ae" stroke="#4100ae" stroke-width="0.5"/>
<path d="M489.62 38.81 A51.64 51.64 0 0 0 481.91 57.43 L488.59 58.76 A44.82 44.82 0 0 1 495.28 42.60 Z" fill="#49006c" stroke="#49006c" stroke-width="0.5"/>
<path d="M536.86 45.83 A22.09 22.09 0 0 0 528.24 45.83 L529.30 51.17 A16.65 16.65 0 0 1 535.80 51.17 Z" fill="#07ff00" stroke="#07ff00" stroke-width="0.5"/>
<path d="M538.27 38.74 A29.32 29.32 0 0 0 526.83 38.74 L528.24 45.83 A22.09 22.09 0 0 1 536.86 45.83 Z" fill="#00ff2e" stroke="#00ff2e" stroke-width="0.5"/>
<path d="M540.14 29.34 A38.91 38.91 0 0 0 524.96 29.34 L526.83 38.74 A29.32 29.32 0 0 1 538.27 38.74 Z" fill="#00ffff" stroke="#00ffff" stroke-width="0.5"/>
<path d="M541.29 23.54 A44.82 44.82 0 0 0 523.81 23.54 L524.96 29.34 A38.91 38.91 0 0 1 540.14 29.34 Z" fill="#00ff7c" stroke="#00ff7c" stroke-width="0.5"/>
<path d="M542.62 16.86 A51.64 51.64 0 0 0 522.48 16.86 L523.81 23.54 A44.82 44.82 0 0 1 541.29 23.54 Z" fill="#00ffa5" stroke="#00ffa5" stroke-width="0.5"/>
<path d="M544.15 9.16 A59.48 59.48 0 0 0 520.95 9.16 L522.48 16.86 A51.64 51.64 0 0 1 542.62 16.86 Z" fill="#00ffcf" stroke="#00ffcf" stroke-width="0.5"/>
<path d="M547.95 -9.93 A78.94 78.94 0 0 0 517.15 -9.93 L520.95 9.16 A59.48 59.48 0 0 1 544.15 9.16 Z" fill="#0013ff" stroke="#0013ff" stroke-width="0.5"/>
<path d="M544.82 49.13 A22.09 22.09 0 0 0 536.86 45.83 L535.37 53.33 A14.45 14.45 0 0 1 540.58 55.48 Z" fill="#07ff00" stroke="#07ff00" stroke-width="0.5"/>
<path d="M546.69 46.34 A25.45 25.45 0 0 0 537.52 42.54 L536.86 45.83 A22.09 22.09 0 0 1 544.82 49.13 Z" fill="#00ff14" stroke="#00ff14" stroke-width="0.5"/>
<path d="M551.31 39.42 A33.77 33.77 0 0 0 539.14 34.37 L537.52 42.54 A25.45 25.45 0 0 1 546.69 46.34 Z" fill="#00ff48" stroke="#00ff48" stroke-width="0.5"/>
<path d="M554.17 35.15 A38.91 38.91 0 0 0 540.14 29.34 L539.14 34.37 A33.77 33.77 0 0 1 551.31 39.42 Z" fill="#00ffea" stroke="#00ffea" stroke-width="0.5"/>
<path d="M557.45 30.23 A44.82 44.82 0 0 0 541.29 23.54 L540.14 29.34 A38.91 38.91 0 0 1 554.17 35.15 Z" fill="#00ffcf" stroke="#00ffcf" stroke-width="0.5"/>
<path d="M561.24 24.57 A51.64 51.64 0 0 0 542.62 16.86 L541.29 23.54 A44.82 44.82 0 0 1 557.45 30.23 Z" fill="#00b5ff" stroke="#00b5ff" stroke-width="0.5"/>
<path d="M565.60 18.04 A59.48 59.48 0 0 0 544.15 9.16 L542.62 16.86 A51.64 51.64 0 0 1 561.24 24.57 Z" fill="#003cff" stroke="#003cff" stroke-width="0.5"/>
<path d="M540.41 62.25 A9.45 9.45 0 0 0 537.80 59.64 L537.11 60.68 A8.20 8.20 0 0 1 539.37 62.94 Z" fill="#ff7000" stroke="#ff7000" stroke-width="0.5"/>
<path d="M546.39 58.25 A16.65 16.65 0 0 0 541.80 53.66 L540.58 55.48 A14.45 14.45 0 0 1 544.57 59.47 Z" fill="#21ff00" stroke="#21ff00" stroke-width="0.5"/>
<path d="M550.92 55.23 A22.09 22.09 0 0 0 544.82 49.13 L543.20 51.55 A19.18 19.18 0 0 1 548.50 56.85 Z" fill="#3bff00" stroke="#3bff00" stroke-width="0.5"/>
<path d="M556.93 51.21 A29.32 29.32 0 0 0 548.84 43.12 L544.82 49.13 A22.09 22.09 0 0 1 550.92 55.23 Z" fill="#00ff2e" stroke="#00ff2e" stroke-width="0.5"/>
<path d="M560.63 48.74 A33.77 33.77 0 0 0 551.31 39.42 L548.84 43.12 A29.32 29.32 0 0 1 556.93 51.21 Z" fill="#00ff48" stroke="#00ff48" stroke-width="0.5"/>
<path d="M564.90 45.88 A38.91 38.91 0 0 0 554.17 35.15 L551.31 39.42 A33.77 33.77 0 0 1 560.63 48.74 Z" fill="#00ffff" stroke="#00ffff" stroke-width="0.5"/>
<path d="M569.82 42.60 A44.82 44.82 0 0 0 557.45 30.23 L554.17 35.15 A38.91 38.91 0 0 1 564.90 45.88 Z" fill="#0021ff" stroke="#0021ff" stroke-width="0.5"/>
<path d="M575.48 38.81 A51.64 51.64 0 0 0 561.24 24.57 L557.45 30.23 A44.82 44.82 0 0 1 569.82 42.60 Z" fill="#49006c" stroke="#49006c" stroke-width="0.5"/>
<path d="M551.36 63.76 A19.18 19.18 0 0 0 548.50 56.85 L544.57 59.47 A14.45 14.45 0 0 1 546.72 64.68 Z" fill="#3bff00" stroke="#3bff00" stroke-width="0.5"/>
<path d="M554.22 63.19 A22.09 22.09 0 0 0 550.92 55.23 L548.50 56.85 A19.18 19.18 0 0 1 551.36 63.76 Z" fill="#aaff00" stroke="#aaff00" stroke-width="0.5"/>
<path d="M557.51 62.53 A25.45 25.45 0 0 0 553.71 53.36 L550.92 55.23 A22.09 22.09 0 0 1 554.22 63.19 Z" fill="#c8ff00" stroke="#c8ff00" stroke-width="0.5"/>
<path d="M561.31 61.78 A29.32 29.32 0 0 0 556.93 51.21 L553.71 53.36 A25.45 25.45 0 0 1 557.51 62.53 Z" fill="#07ff00" stroke="#07ff00" stroke-width="0.5"/>
<path d="M565.68 60.91 A33.77 33.77 0 0 0 560.63 48.74 L556.93 51.21 A29.32 29.32 0 0 1 561.31 61.78 Z" fill="#00ff8a" stroke="#00ff8a" stroke-width="0.5"/>
<path d="M570.71 59.91 A38.91 38.91 0 0 0 564.90 45.88 L560.63 48.74 A33.77 33.77 0 0 1 565.68 60.91 Z" fill="#00deff" stroke="#00deff" stroke-width="0.5"/>
<path d="M543.23 69.62 A10.89 10.89 0 0 0 543.23 65.38 L541.82 65.66 A9.45 9.45 0 0 1 541.82 69.34 Z" fill="#ff3900" stroke="#ff3900" stroke-width="0.5"/>
<path d="M548.88 70.75 A16.65 16.65 0 0 0 548.88 64.25 L543.23 65.38 A10.89 10.89 0 0 1 543.23 69.62 Z" fill="#ff7000" stroke="#ff7000" stroke-width="0.5"/>
<path d="M554.22 71.81 A22.09 22.09 0 0 0 554.22 63.19 L548.88 64.25 A16.65 16.65 0 0 1 548.88 70.75 Z" fill="#ffdf00" stroke="#ffdf00" stroke-width="0.5"/>
<path d="M557.51 72.47 A25.45 25.45 0 0 0 557.51 62.53 L554.22 63.19 A22.09 22.09 0 0 1 554.22 71.81 Z" fill="#aaff00" stroke="#aaff00" stroke-width="0.5"/>
<path d="M561.31 73.22 A29.32 29.32 0 0 0 561.31 61.78 L557.51 62.53 A25.45 25.45 0 0 1 557.51 72.47 Z" fill="#3bff00" stroke="#3bff00" stroke-width="0.5"/>
<path d="M565.68 74.09 A33.77 33.77 0 0 0 565.68 60.91 L561.31 61.78 A29.32 29.32 0 0 1 561.31 73.22 Z" fill="#00ff2e" stroke="#00ff2e" stroke-width="0.5"/>
<path d="M570.71 75.09 A38.91 38.91 0 0 0 570.71 59.91 L565.68 60.91 A33.77 33.77 0 0 1 565.68 74.09 Z" fill="#00ffff" stroke="#00ffff" stroke-width="0.5"/>
<path d="M576.51 76.24 A44.82 44.82 0 0 0 576.51 58.76 L570.71 59.91 A38.91 38.91 0 0 1 570.71 75.09 Z" fill="#0005ff" stroke="#0005ff" stroke-width="0.5"/>
<path d="M542.98 74.47 A12.54 12.54 0 0 0 544.85 69.95 L541.82 69.34 A9.45 9.45 0 0 1 540.41 72.75 Z" fill="#ff3900" stroke="#ff3900" stroke-width="0.5"/>
<path d="M546.39 76.75 A16.65 16.65 0 0 0 548.88 70.75 L544.85 69.95 A12.54 12.54 0 0 1 542.98 74.47 Z" fill="#ff7000" stroke="#ff7000" stroke-width="0.5"/>
<path d="M548.50 78.15 A19.18 19.18 0 0 0 551.36 71.24 L548.88 70.75 A16.65 16.65 0 0 1 546.39 76.75 Z" fill="#ffa800" stroke="#ffa800" stroke-width="0.5"/>
<path d="M550.92 79.77 A22.09 22.09 0 0 0 554.22 71.81 L551.36 71.24 A19.18 19.18 0 0 1 548.50 78.15 Z" fill="#ffed00" stroke="#ffed00" stroke-width="0.5"/>
<path d="M556.93 83.79 A29.32 29.32 0 0 0 561.31 73.22 L554.22 71.81 A22.09 22.09 0 0 1 550.92 79.77 Z" fill="#3bff00" stroke="#3bff00" stroke-width="0.5"/>
<path d="M560.63 86.26 A33.77 33.77 0 0 0 565.68 74.09 L561.31 73.22 A29.32 29.32 0 0 1 556.93 83.79 Z" fill="#00ff98" stroke="#00ff98" stroke-width="0.5"/>
<path d="M564.90 89.12 A38.91 38.91 0 0 0 570.71 75.09 L565.68 74.09 A33.77 33.77 0 0 1 560.63 86.26 Z" fill="#0080ff" stroke="#0080ff" stroke-width="0.5"/>
<path d="M569.82 92.40 A44.82 44.82 0 0 0 576.51 76.24 L570.71 75.09 A38.91 38.91 0 0 1 564.90 89.12 Z" fill="#004aff" stroke="#004aff" stroke-width="0.5"/>
<path d="M543.20 83.45 A19.18 19.18 0 0 0 548.50 78.15 L546.39 76.75 A16.65 16.65 0 0 1 541.80 81.34 Z" fill="#aaff00" stroke="#aaff00" stroke-width="0.5"/>
<path d="M548.84 91.88 A29.32 29.32 0 0 0 556.93 83.79 L548.50 78.15 A19.18 19.18 0 0 1 543.20 83.45 Z" fill="#21ff00" stroke="#21ff00" stroke-width="0.5"/>
<path d="M551.31 95.58 A33.77 33.77 0 0 0 560.63 86.26 L556.93 83.79 A29.32 29.32 0 0 1 548.84 91.88 Z" fill="#00c3ff" stroke="#00c3ff" stroke-width="0.5"/>
<path d="M554.17 99.85 A38.91 38.91 0 0 0 564.90 89.12 L560.63 86.26 A33.77 33.77 0 0 1 551.31 95.58 Z" fill="#008dff" stroke="#008dff" stroke-width="0.5"/>
<path d="M557.45 104.77 A44.82 44.82 0 0 0 569.82 92.40 L564.90 89.12 A38.91 38.91 0 0 1 554.17 99.85 Z" fill="#0005ff" stroke="#0005ff" stroke-width="0.5"/>
<path d="M536.29 86.31 A19.18 19.18 0 0 0 543.20 83.45 L541.80 81.34 A16.65 16.65 0 0 1 535.80 83.83 Z" fill="#21ff00" stroke="#21ff00" stroke-width="0.5"/>
<path d="M537.52 92.46 A25.45 25.45 0 0 0 546.69 88.66 L543.20 83.45 A19.18 19.18 0 0 1 536.29 86.31 Z" fill="#21ff00" stroke="#21ff00" stroke-width="0.5"/>
<path d="M539.14 100.63 A33.77 33.77 0 0 0 551.31 95.58 L546.69 88.66 A25.45 25.45 0 0 1 537.52 92.46 Z" fill="#00ff14" stroke="#00ff14" stroke-width="0.5"/>
<path d="M540.14 105.66 A38.91 38.91 0 0 0 554.17 99.85 L551.31 95.58 A33.77 33.77 0 0 1 539.14 100.63 Z" fill="#00ff98" stroke="#00ff98" stroke-width="0.5"/>
<path d="M541.29 111.46 A44.82 44.82 0 0 0 557.45 104.77 L554.17 99.85 A38.91 38.91 0 0 1 540.14 105.66 Z" fill="#0005ff" stroke="#0005ff" stroke-width="0.5"/>
<path d="M542.62 118.14 A51.64 51.64 0 0 0 561.24 110.43 L557.45 104.77 A44.82 44.82 0 0 1 541.29 111.46 Z" fill="#0080ff" stroke="#0080ff" stroke-width="0.5"/>
<path d="M526.83 96.26 A29.32 29.32 0 0 0 538.27 96.26 L536.86 89.17 A22.09 22.09 0 0 1 528.24 89.17 Z" fill="#00ffb3" stroke="#00ffb3" stroke-width="0.5"/>
<path d="M525.96 100.63 A33.77 33.77 0 0 0 539.14 100.63 L538.27 96.26 A29.32 29.32 0 0 1 526.83 96.26 Z" fill="#00ff98" stroke="#00ff98" stroke-width="0.5"/>
<path d="M523.81 111.46 A44.82 44.82 0 0 0 541.29 111.46 L539.14 100.63 A33.77 33.77 0 0 1 525.96 100.63 Z" fill="#00ffea" stroke="#00ffea" stroke-width="0.5"/>
<path d="M522.48 118.14 A51.64 51.64 0 0 0 542.62 118.14 L541.29 111.46 A44.82 44.82 0 0 1 523.81 111.46 Z" fill="#00a8ff" stroke="#00a8ff" stroke-width="0.5"/>
<path d="M520.95 125.84 A59.48 59.48 0 0 0 544.15 125.84 L542.62 118.14 A51.64 51.64 0 0 1 522.48 118.14 Z" fill="#4100ae" stroke="#4100ae" stroke-width="0.5"/>
<path d="M517.15 144.93 A78.94 78.94 0 0 0 547.95 144.93 L544.15 125.84 A59.48 59.48 0 0 1 520.95 125.84 Z" fill="#49006c" stroke="#49006c" stroke-width="0.5"/>
<path d="M510.93 99.85 A38.91 38.91 0 0 0 524.96 105.66 L525.96 100.63 A33.77 33.77 0 0 1 513.79 95.58 Z" fill="#0080ff" stroke="#0080ff" stroke-width="0.5"/>
</g>
<rect x="466.90" y="1.70" width="131.30" height="131.60" fill="none" stroke="#303030" stroke-width="1.35"/>
<path d="M474.19 1.70v2.60M474.19 133.30v-2.60M466.90 125.86h2.60M598.20 125.86h-2.60M481.49 1.70v2.60M481.49 133.30v-2.60M466.90 118.56h2.60M598.20 118.56h-2.60M488.78 1.70v2.60M488.78 133.30v-2.60M466.90 111.27h2.60M598.20 111.27h-2.60M496.08 1.70v5.00M496.08 133.30v-5.00M466.90 103.97h5.00M598.20 103.97h-5.00M503.37 1.70v2.60M503.37 133.30v-2.60M466.90 96.68h2.60M598.20 96.68h-2.60M510.67 1.70v2.60M510.67 133.30v-2.60M466.90 89.38h2.60M598.20 89.38h-2.60M517.96 1.70v2.60M517.96 133.30v-2.60M466.90 82.09h2.60M598.20 82.09h-2.60M525.26 1.70v2.60M525.26 133.30v-2.60M466.90 74.79h2.60M598.20 74.79h-2.60M532.55 1.70v5.00M532.55 133.30v-5.00M466.90 67.50h5.00M598.20 67.50h-5.00M539.84 1.70v2.60M539.84 133.30v-2.60M466.90 60.21h2.60M598.20 60.21h-2.60M547.14 1.70v2.60M547.14 133.30v-2.60M466.90 52.91h2.60M598.20 52.91h-2.60M554.43 1.70v2.60M554.43 133.30v-2.60M466.90 45.62h2.60M598.20 45.62h-2.60M561.73 1.70v2.60M561.73 133.30v-2.60M466.90 38.32h2.60M598.20 38.32h-2.60M569.02 1.70v5.00M569.02 133.30v-5.00M466.90 31.03h5.00M598.20 31.03h-5.00M576.32 1.70v2.60M576.32 133.30v-2.60M466.90 23.73h2.60M598.20 23.73h-2.60M583.61 1.70v2.60M583.61 133.30v-2.60M466.90 16.44h2.60M598.20 16.44h-2.60M590.91 1.70v2.60M590.91 133.30v-2.60M466.90 9.14h2.60M598.20 9.14h-2.60" stroke="#303030" stroke-width="1.15" fill="none"/>
<text transform="translate(473.90 17.50) scale(1 1.070)" font-size="15">(d)</text>
<g clip-path="url(#c4)">
<path d="M93.29 201.93 A25.45 25.45 0 0 0 93.29 211.87 L99.44 210.64 A19.18 19.18 0 0 1 99.44 203.16 Z" fill="#ff0000" stroke="#ff0000" stroke-width="0.5"/>
<path d="M89.49 201.18 A29.32 29.32 0 0 0 89.49 212.62 L93.29 211.87 A25.45 25.45 0 0 1 93.29 201.93 Z" fill="#ff1e00" stroke="#ff1e00" stroke-width="0.5"/>
<path d="M85.12 200.31 A33.77 33.77 0 0 0 85.12 213.49 L89.49 212.62 A29.32 29.32 0 0 1 89.49 201.18 Z" fill="#00ff07" stroke="#00ff07" stroke-width="0.5"/>
<path d="M80.09 199.31 A38.91 38.91 0 0 0 80.09 214.49 L85.12 213.49 A33.77 33.77 0 0 1 85.12 200.31 Z" fill="#aaff00" stroke="#aaff00" stroke-width="0.5"/>
<path d="M74.29 198.16 A44.82 44.82 0 0 0 74.29 215.64 L80.09 214.49 A38.91 38.91 0 0 1 80.09 199.31 Z" fill="#00ffff" stroke="#00ffff" stroke-width="0.5"/>
<path d="M85.90 185.28 A38.91 38.91 0 0 0 80.09 199.31 L85.12 200.31 A33.77 33.77 0 0 1 90.17 188.14 Z" fill="#0080ff" stroke="#0080ff" stroke-width="0.5"/>
<path d="M80.98 182.00 A44.82 44.82 0 0 0 74.29 198.16 L80.09 199.31 A38.91 38.91 0 0 1 85.90 185.28 Z" fill="#4100ae" stroke="#4100ae" stroke-width="0.5"/>
<path d="M121.99 188.09 A19.18 19.18 0 0 0 114.51 188.09 L115.00 190.57 A16.65 16.65 0 0 1 121.50 190.57 Z" fill="#00ff07" stroke="#00ff07" stroke-width="0.5"/>
<path d="M124.84 173.77 A33.77 33.77 0 0 0 111.66 173.77 L112.53 178.14 A29.32 29.32 0 0 1 123.97 178.14 Z" fill="#008dff" stroke="#008dff" stroke-width="0.5"/>
<path d="M125.84 168.74 A38.91 38.91 0 0 0 110.66 168.74 L111.66 173.77 A33.77 33.77 0 0 1 124.84 173.77 Z" fill="#0005ff" stroke="#0005ff" stroke-width="0.5"/>
<path d="M126.99 162.94 A44.82 44.82 0 0 0 109.51 162.94 L110.66 168.74 A38.91 38.91 0 0 1 125.84 168.74 Z" fill="#00a8ff" stroke="#00a8ff" stroke-width="0.5"/>
<path d="M128.32 156.26 A51.64 51.64 0 0 0 108.18 156.26 L109.51 162.94 A44.82 44.82 0 0 1 126.99 162.94 Z" fill="#00ffff" stroke="#00ffff" stroke-width="0.5"/>
<path d="M129.85 148.56 A59.48 59.48 0 0 0 106.65 148.56 L108.18 156.26 A51.64 51.64 0 0 1 128.32 156.26 Z" fill="#00ebff" stroke="#00ebff" stroke-width="0.5"/>
<path d="M133.65 129.47 A78.94 78.94 0 0 0 102.85 129.47 L106.65 148.56 A59.48 59.48 0 0 1 129.85 148.56 Z" fill="#008dff" stroke="#008dff" stroke-width="0.5"/>
<path d="M130.52 188.53 A22.09 22.09 0 0 0 122.56 185.23 L121.07 192.73 A14.45 14.45 0 0 1 126.28 194.88 Z" fill="#21ff00" stroke="#21ff00" stroke-width="0.5"/>
<path d="M132.39 185.74 A25.45 25.45 0 0 0 123.22 181.94 L122.56 185.23 A22.09 22.09 0 0 1 130.52 188.53 Z" fill="#07ff00" stroke="#07ff00" stroke-width="0.5"/>
<path d="M137.01 178.82 A33.77 33.77 0 0 0 124.84 173.77 L123.22 181.94 A25.45 25.45 0 0 1 132.39 185.74 Z" fill="#00ff21" stroke="#00ff21" stroke-width="0.5"/>
<path d="M139.87 174.55 A38.91 38.91 0 0 0 125.84 168.74 L124.84 173.77 A33.77 33.77 0 0 1 137.01 178.82 Z" fill="#00ffb3" stroke="#00ffb3" stroke-width="0.5"/>
<path d="M143.15 169.63 A44.82 44.82 0 0 0 126.99 162.94 L125.84 168.74 A38.91 38.91 0 0 1 139.87 174.55 Z" fill="#00ffa5" stroke="#00ffa5" stroke-width="0.5"/>
<path d="M146.94 163.97 A51.64 51.64 0 0 0 128.32 156.26 L126.99 162.94 A44.82 44.82 0 0 1 143.15 169.63 Z" fill="#00a8ff" stroke="#00a8ff" stroke-width="0.5"/>
<path d="M151.30 157.44 A59.48 59.48 0 0 0 129.85 148.56 L128.32 156.26 A51.64 51.64 0 0 1 146.94 163.97 Z" fill="#0080ff" stroke="#0080ff" stroke-width="0.5"/>
<path d="M156.32 149.92 A68.53 68.53 0 0 0 131.62 139.69 L129.85 148.56 A59.48 59.48 0 0 1 151.30 157.44 Z" fill="#4100ae" stroke="#4100ae" stroke-width="0.5"/>
<path d="M134.20 196.25 A19.18 19.18 0 0 0 128.90 190.95 L126.28 194.88 A14.45 14.45 0 0 1 130.27 198.87 Z" fill="#aaff00" stroke="#aaff00" stroke-width="0.5"/>
<path d="M136.62 194.63 A22.09 22.09 0 0 0 130.52 188.53 L128.90 190.95 A19.18 19.18 0 0 1 134.20 196.25 Z" fill="#56ff00" stroke="#56ff00" stroke-width="0.5"/>
<path d="M139.41 192.76 A25.45 25.45 0 0 0 132.39 185.74 L130.52 188.53 A22.09 22.09 0 0 1 136.62 194.63 Z" fill="#56ff00" stroke="#56ff00" stroke-width="0.5"/>
<path d="M146.33 188.14 A33.77 33.77 0 0 0 137.01 178.82 L132.39 185.74 A25.45 25.45 0 0 1 139.41 192.76 Z" fill="#00ff48" stroke="#00ff48" stroke-width="0.5"/>
<path d="M150.60 185.28 A38.91 38.91 0 0 0 139.87 174.55 L137.01 178.82 A33.77 33.77 0 0 1 146.33 188.14 Z" fill="#0080ff" stroke="#0080ff" stroke-width="0.5"/>
<path d="M155.52 182.00 A44.82 44.82 0 0 0 143.15 169.63 L139.87 174.55 A38.91 38.91 0 0 1 150.60 185.28 Z" fill="#003cff" stroke="#003cff" stroke-width="0.5"/>
<path d="M161.18 178.21 A51.64 51.64 0 0 0 146.94 163.97 L143.15 169.63 A44.82 44.82 0 0 1 155.52 182.00 Z" fill="#1f00d9" stroke="#1f00d9" stroke-width="0.5"/>
<path d="M132.42 204.08 A14.45 14.45 0 0 0 130.27 198.87 L127.30 200.85 A10.89 10.89 0 0 1 128.93 204.78 Z" fill="#ff7000" stroke="#ff7000" stroke-width="0.5"/>
<path d="M137.06 203.16 A19.18 19.18 0 0 0 134.20 196.25 L130.27 198.87 A14.45 14.45 0 0 1 132.42 204.08 Z" fill="#ffdf00" stroke="#ffdf00" stroke-width="0.5"/>
<path d="M139.92 202.59 A22.09 22.09 0 0 0 136.62 194.63 L134.20 196.25 A19.18 19.18 0 0 1 137.06 203.16 Z" fill="#aaff00" stroke="#aaff00" stroke-width="0.5"/>
<path d="M143.21 201.93 A25.45 25.45 0 0 0 139.41 192.76 L136.62 194.63 A22.09 22.09 0 0 1 139.92 202.59 Z" fill="#56ff00" stroke="#56ff00" stroke-width="0.5"/>
<path d="M147.01 201.18 A29.32 29.32 0 0 0 142.63 190.61 L139.41 192.76 A25.45 25.45 0 0 1 143.21 201.93 Z" fill="#07ff00" stroke="#07ff00" stroke-width="0.5"/>
<path d="M156.41 199.31 A38.91 38.91 0 0 0 150.60 185.28 L142.63 190.61 A29.32 29.32 0 0 1 147.01 201.18 Z" fill="#00a8ff" stroke="#00a8ff" stroke-width="0.5"/>
<path d="M162.21 198.16 A44.82 44.82 0 0 0 155.52 182.00 L150.60 185.28 A38.91 38.91 0 0 1 156.41 199.31 Z" fill="#003cff" stroke="#003cff" stroke-width="0.5"/>
<path d="M168.89 196.83 A51.64 51.64 0 0 0 161.18 178.21 L155.52 182.00 A44.82 44.82 0 0 1 162.21 198.16 Z" fill="#4100ae" stroke="#4100ae" stroke-width="0.5"/>
<path d="M132.42 209.72 A14.45 14.45 0 0 0 132.42 204.08 L128.93 204.78 A10.89 10.89 0 0 1 128.93 209.02 Z" fill="#ff7e00" stroke="#ff7e00" stroke-width="0.5"/>
<path d="M134.58 210.15 A16.65 16.65 0 0 0 134.58 203.65 L132.42 204.08 A14.45 14.45 0 0 1 132.42 209.72 Z" fill="#ff1e00" stroke="#ff1e00" stroke-width="0.5"/>
<path d="M137.06 210.64 A19.18 19.18 0 0 0 137.06 203.16 L134.58 203.65 A16.65 16.65 0 0 1 134.58 210.15 Z" fill="#ffa800" stroke="#ffa800" stroke-width="0.5"/>
<path d="M139.92 211.21 A22.09 22.09 0 0 0 139.92 202.59 L137.06 203.16 A19.18 19.18 0 0 1 137.06 210.64 Z" fill="#ffed00" stroke="#ffed00" stroke-width="0.5"/>
<path d="M143.21 211.87 A25.45 25.45 0 0 0 143.21 201.93 L139.92 202.59 A22.09 22.09 0 0 1 139.92 211.21 Z" fill="#c8ff00" stroke="#c8ff00" stroke-width="0.5"/>
<path d="M147.01 212.62 A29.32 29.32 0 0 0 147.01 201.18 L143.21 201.93 A25.45 25.45 0 0 1 143.21 211.87 Z" fill="#3bff00" stroke="#3bff00" stroke-width="0.5"/>
<path d="M151.38 213.49 A33.77 33.77 0 0 0 151.38 200.31 L147.01 201.18 A29.32 29.32 0 0 1 147.01 212.62 Z" fill="#00ff14" stroke="#00ff14" stroke-width="0.5"/>
<path d="M156.41 214.49 A38.91 38.91 0 0 0 156.41 199.31 L151.38 200.31 A33.77 33.77 0 0 1 151.38 213.49 Z" fill="#00a8ff" stroke="#00a8ff" stroke-width="0.5"/>
<path d="M162.21 215.64 A44.82 44.82 0 0 0 162.21 198.16 L156.41 199.31 A38.91 38.91 0 0 1 156.41 214.49 Z" fill="#3000c3" stroke="#3000c3" stroke-width="0.5"/>
<path d="M134.20 217.55 A19.18 19.18 0 0 0 137.06 210.64 L132.42 209.72 A14.45 14.45 0 0 1 130.27 214.93 Z" fill="#ffa800" stroke="#ffa800" stroke-width="0.5"/>
<path d="M136.62 219.17 A22.09 22.09 0 0 0 139.92 211.21 L137.06 210.64 A19.18 19.18 0 0 1 134.20 217.55 Z" fill="#e6ff00" stroke="#e6ff00" stroke-width="0.5"/>
<path d="M139.41 221.04 A25.45 25.45 0 0 0 143.21 211.87 L139.92 211.21 A22.09 22.09 0 0 1 136.62 219.17 Z" fill="#56ff00" stroke="#56ff00" stroke-width="0.5"/>
<path d="M142.63 223.19 A29.32 29.32 0 0 0 147.01 212.62 L143.21 211.87 A25.45 25.45 0 0 1 139.41 221.04 Z" fill="#00ff07" stroke="#00ff07" stroke-width="0.5"/>
<path d="M146.33 225.66 A33.77 33.77 0 0 0 151.38 213.49 L147.01 212.62 A29.32 29.32 0 0 1 142.63 223.19 Z" fill="#00ffa5" stroke="#00ffa5" stroke-width="0.5"/>
<path d="M150.60 228.52 A38.91 38.91 0 0 0 156.41 214.49 L151.38 213.49 A33.77 33.77 0 0 1 146.33 225.66 Z" fill="#0005ff" stroke="#0005ff" stroke-width="0.5"/>
<path d="M155.52 231.80 A44.82 44.82 0 0 0 162.21 215.64 L156.41 214.49 A38.91 38.91 0 0 1 150.60 228.52 Z" fill="#4100ae" stroke="#4100ae" stroke-width="0.5"/>
<path d="M130.52 225.27 A22.09 22.09 0 0 0 136.62 219.17 L134.20 217.55 A19.18 19.18 0 0 1 128.90 222.85 Z" fill="#3bff00" stroke="#3bff00" stroke-width="0.5"/>
<path d="M134.54 231.28 A29.32 29.32 0 0 0 142.63 223.19 L136.62 219.17 A22.09 22.09 0 0 1 130.52 225.27 Z" fill="#00ff21" stroke="#00ff21" stroke-width="0.5"/>
<path d="M137.01 234.98 A33.77 33.77 0 0 0 146.33 225.66 L142.63 223.19 A29.32 29.32 0 0 1 134.54 231.28 Z" fill="#00ff8a" stroke="#00ff8a" stroke-width="0.5"/>
<path d="M139.87 239.25 A38.91 38.91 0 0 0 150.60 228.52 L146.33 225.66 A33.77 33.77 0 0 1 137.01 234.98 Z" fill="#00a8ff" stroke="#00a8ff" stroke-width="0.5"/>
<path d="M143.15 244.17 A44.82 44.82 0 0 0 155.52 231.80 L150.60 228.52 A38.91 38.91 0 0 1 139.87 239.25 Z" fill="#1f00d9" stroke="#1f00d9" stroke-width="0.5"/>
<path d="M146.94 249.83 A51.64 51.64 0 0 0 161.18 235.59 L155.52 231.80 A44.82 44.82 0 0 1 143.15 244.17 Z" fill="#4b0087" stroke="#4b0087" stroke-width="0.5"/>
<path d="M122.56 228.57 A22.09 22.09 0 0 0 130.52 225.27 L128.90 222.85 A19.18 19.18 0 0 1 121.99 225.71 Z" fill="#21ff00" stroke="#21ff00" stroke-width="0.5"/>
<path d="M124.84 240.03 A33.77 33.77 0 0 0 137.01 234.98 L132.39 228.06 A25.45 25.45 0 0 1 123.22 231.86 Z" fill="#00ff98" stroke="#00ff98" stroke-width="0.5"/>
<path d="M125.84 245.06 A38.91 38.91 0 0 0 139.87 239.25 L137.01 234.98 A33.77 33.77 0 0 1 124.84 240.03 Z" fill="#0065ff" stroke="#0065ff" stroke-width="0.5"/>
<path d="M126.99 250.86 A44.82 44.82 0 0 0 143.15 244.17 L139.87 239.25 A38.91 38.91 0 0 1 125.84 245.06 Z" fill="#0005ff" stroke="#0005ff" stroke-width="0.5"/>
<path d="M128.32 257.54 A51.64 51.64 0 0 0 146.94 249.83 L143.15 244.17 A44.82 44.82 0 0 1 126.99 250.86 Z" fill="#003cff" stroke="#003cff" stroke-width="0.5"/>
<path d="M129.85 265.24 A59.48 59.48 0 0 0 151.30 256.36 L146.94 249.83 A51.64 51.64 0 0 1 128.32 257.54 Z" fill="#4100ae" stroke="#4100ae" stroke-width="0.5"/>
<path d="M113.28 231.86 A25.45 25.45 0 0 0 123.22 231.86 L122.56 228.57 A22.09 22.09 0 0 1 113.94 228.57 Z" fill="#00ff21" stroke="#00ff21" stroke-width="0.5"/>
<path d="M109.51 250.86 A44.82 44.82 0 0 0 126.99 250.86 L123.97 235.66 A29.32 29.32 0 0 1 112.53 235.66 Z" fill="#00ff48" stroke="#00ff48" stroke-width="0.5"/>
<path d="M108.18 257.54 A51.64 51.64 0 0 0 128.32 257.54 L126.99 250.86 A44.82 44.82 0 0 1 109.51 250.86 Z" fill="#00a8ff" stroke="#00a8ff" stroke-width="0.5"/>
<path d="M106.65 265.24 A59.48 59.48 0 0 0 129.85 265.24 L128.32 257.54 A51.64 51.64 0 0 1 108.18 257.54 Z" fill="#4b0087" stroke="#4b0087" stroke-width="0.5"/>
<path d="M96.63 239.25 A38.91 38.91 0 0 0 103.36 242.85 L107.03 233.99 A29.32 29.32 0 0 1 101.96 231.28 Z" fill="#00ffff" stroke="#00ffff" stroke-width="0.5"/>
<path d="M93.35 244.17 A44.82 44.82 0 0 0 101.10 248.31 L103.36 242.85 A38.91 38.91 0 0 1 96.63 239.25 Z" fill="#00ffea" stroke="#00ffea" stroke-width="0.5"/>
<path d="M101.10 248.31 A44.82 44.82 0 0 0 109.51 250.86 L112.53 235.66 A29.32 29.32 0 0 1 107.03 233.99 Z" fill="#00ffb3" stroke="#00ffb3" stroke-width="0.5"/>
</g>
<rect x="52.50" y="141.10" width="131.50" height="131.60" fill="none" stroke="#303030" stroke-width="1.35"/>
<path d="M59.81 141.10v2.60M59.81 272.70v-2.60M52.50 265.34h2.60M184.00 265.34h-2.60M67.11 141.10v2.60M67.11 272.70v-2.60M52.50 258.04h2.60M184.00 258.04h-2.60M74.42 141.10v2.60M74.42 272.70v-2.60M52.50 250.73h2.60M184.00 250.73h-2.60M81.72 141.10v5.00M81.72 272.70v-5.00M52.50 243.43h5.00M184.00 243.43h-5.00M89.03 141.10v2.60M89.03 272.70v-2.60M52.50 236.12h2.60M184.00 236.12h-2.60M96.33 141.10v2.60M96.33 272.70v-2.60M52.50 228.82h2.60M184.00 228.82h-2.60M103.64 141.10v2.60M103.64 272.70v-2.60M52.50 221.51h2.60M184.00 221.51h-2.60M110.94 141.10v2.60M110.94 272.70v-2.60M52.50 214.21h2.60M184.00 214.21h-2.60M118.25 141.10v5.00M118.25 272.70v-5.00M52.50 206.90h5.00M184.00 206.90h-5.00M125.56 141.10v2.60M125.56 272.70v-2.60M52.50 199.59h2.60M184.00 199.59h-2.60M132.86 141.10v2.60M132.86 272.70v-2.60M52.50 192.29h2.60M184.00 192.29h-2.60M140.17 141.10v2.60M140.17 272.70v-2.60M52.50 184.98h2.60M184.00 184.98h-2.60M147.47 141.10v2.60M147.47 272.70v-2.60M52.50 177.68h2.60M184.00 177.68h-2.60M154.78 141.10v5.00M154.78 272.70v-5.00M52.50 170.37h5.00M184.00 170.37h-5.00M162.08 141.10v2.60M162.08 272.70v-2.60M52.50 163.07h2.60M184.00 163.07h-2.60M169.39 141.10v2.60M169.39 272.70v-2.60M52.50 155.76h2.60M184.00 155.76h-2.60M176.69 141.10v2.60M176.69 272.70v-2.60M52.50 148.46h2.60M184.00 148.46h-2.60" stroke="#303030" stroke-width="1.15" fill="none"/>
<text transform="translate(59.50 156.90) scale(1 1.070)" font-size="15">(e)</text>
<text transform="translate(48.80 175.77) scale(1 1.070)" font-size="15" text-anchor="end">1000</text>
<text transform="translate(48.80 212.30) scale(1 1.070)" font-size="15" text-anchor="end">0</text>
<text transform="translate(48.80 248.83) scale(1 1.070)" font-size="15" text-anchor="end">-1000</text>
<text transform="translate(13.20 206.90) rotate(-90) scale(1 1.070)" font-size="15" text-anchor="middle">Vy (km/s)</text>
<text transform="translate(81.72 292.70) scale(1 1.070)" font-size="15" text-anchor="middle">-1000</text>
<text transform="translate(118.25 292.70) scale(1 1.070)" font-size="15" text-anchor="middle">0</text>
<text transform="translate(154.78 292.70) scale(1 1.070)" font-size="15" text-anchor="middle">1000</text>
<text transform="translate(118.25 305.80) scale(1 1.070)" font-size="15" text-anchor="middle">Vx (km/s)</text>
<g clip-path="url(#c5)">
<path d="M227.64 201.18 A29.32 29.32 0 0 0 227.64 212.62 L237.59 210.64 A19.18 19.18 0 0 1 237.59 203.16 Z" fill="#ff0000" stroke="#ff0000" stroke-width="0.5"/>
<path d="M223.27 200.31 A33.77 33.77 0 0 0 223.27 213.49 L227.64 212.62 A29.32 29.32 0 0 1 227.64 201.18 Z" fill="#c8ff00" stroke="#c8ff00" stroke-width="0.5"/>
<path d="M218.24 199.31 A38.91 38.91 0 0 0 218.24 214.49 L223.27 213.49 A33.77 33.77 0 0 1 223.27 200.31 Z" fill="#ff7000" stroke="#ff7000" stroke-width="0.5"/>
<path d="M212.44 198.16 A44.82 44.82 0 0 0 212.44 215.64 L218.24 214.49 A38.91 38.91 0 0 1 218.24 199.31 Z" fill="#00ff07" stroke="#00ff07" stroke-width="0.5"/>
<path d="M205.76 196.83 A51.64 51.64 0 0 0 205.76 216.97 L212.44 215.64 A44.82 44.82 0 0 1 212.44 198.16 Z" fill="#0057ff" stroke="#0057ff" stroke-width="0.5"/>
<path d="M232.02 190.61 A29.32 29.32 0 0 0 227.64 201.18 L234.73 202.59 A22.09 22.09 0 0 1 238.03 194.63 Z" fill="#00ff21" stroke="#00ff21" stroke-width="0.5"/>
<path d="M228.32 188.14 A33.77 33.77 0 0 0 223.27 200.31 L227.64 201.18 A29.32 29.32 0 0 1 232.02 190.61 Z" fill="#00a8ff" stroke="#00a8ff" stroke-width="0.5"/>
<path d="M224.05 185.28 A38.91 38.91 0 0 0 218.24 199.31 L223.27 200.31 A33.77 33.77 0 0 1 228.32 188.14 Z" fill="#00ff98" stroke="#00ff98" stroke-width="0.5"/>
<path d="M219.13 182.00 A44.82 44.82 0 0 0 212.44 198.16 L218.24 199.31 A38.91 38.91 0 0 1 224.05 185.28 Z" fill="#0005ff" stroke="#0005ff" stroke-width="0.5"/>
<path d="M262.12 178.14 A29.32 29.32 0 0 0 250.68 178.14 L252.66 188.09 A19.18 19.18 0 0 1 260.14 188.09 Z" fill="#00ffcf" stroke="#00ffcf" stroke-width="0.5"/>
<path d="M262.99 173.77 A33.77 33.77 0 0 0 249.81 173.77 L250.68 178.14 A29.32 29.32 0 0 1 262.12 178.14 Z" fill="#002eff" stroke="#002eff" stroke-width="0.5"/>
<path d="M265.14 162.94 A44.82 44.82 0 0 0 247.66 162.94 L248.81 168.74 A38.91 38.91 0 0 1 263.99 168.74 Z" fill="#4100ae" stroke="#4100ae" stroke-width="0.5"/>
<path d="M266.47 156.26 A51.64 51.64 0 0 0 246.33 156.26 L247.66 162.94 A44.82 44.82 0 0 1 265.14 162.94 Z" fill="#0005ff" stroke="#0005ff" stroke-width="0.5"/>
<path d="M268.00 148.56 A59.48 59.48 0 0 0 244.80 148.56 L246.33 156.26 A51.64 51.64 0 0 1 266.47 156.26 Z" fill="#00ebff" stroke="#00ebff" stroke-width="0.5"/>
<path d="M271.80 129.47 A78.94 78.94 0 0 0 241.00 129.47 L244.80 148.56 A59.48 59.48 0 0 1 268.00 148.56 Z" fill="#00a8ff" stroke="#00a8ff" stroke-width="0.5"/>
<path d="M265.65 193.06 A16.65 16.65 0 0 0 259.65 190.57 L259.22 192.73 A14.45 14.45 0 0 1 264.43 194.88 Z" fill="#56ff00" stroke="#56ff00" stroke-width="0.5"/>
<path d="M268.67 188.53 A22.09 22.09 0 0 0 260.71 185.23 L259.65 190.57 A16.65 16.65 0 0 1 265.65 193.06 Z" fill="#21ff00" stroke="#21ff00" stroke-width="0.5"/>
<path d="M272.69 182.52 A29.32 29.32 0 0 0 262.12 178.14 L260.71 185.23 A22.09 22.09 0 0 1 268.67 188.53 Z" fill="#00ffb3" stroke="#00ffb3" stroke-width="0.5"/>
<path d="M275.16 178.82 A33.77 33.77 0 0 0 262.99 173.77 L262.12 178.14 A29.32 29.32 0 0 1 272.69 182.52 Z" fill="#00ffea" stroke="#00ffea" stroke-width="0.5"/>
<path d="M278.02 174.55 A38.91 38.91 0 0 0 263.99 168.74 L262.99 173.77 A33.77 33.77 0 0 1 275.16 178.82 Z" fill="#00f8ff" stroke="#00f8ff" stroke-width="0.5"/>
<path d="M281.30 169.63 A44.82 44.82 0 0 0 265.14 162.94 L263.99 168.74 A38.91 38.91 0 0 1 278.02 174.55 Z" fill="#1f00d9" stroke="#1f00d9" stroke-width="0.5"/>
<path d="M285.09 163.97 A51.64 51.64 0 0 0 266.47 156.26 L265.14 162.94 A44.82 44.82 0 0 1 281.30 169.63 Z" fill="#4100ae" stroke="#4100ae" stroke-width="0.5"/>
<path d="M289.45 157.44 A59.48 59.48 0 0 0 268.00 148.56 L266.47 156.26 A51.64 51.64 0 0 1 285.09 163.97 Z" fill="#0080ff" stroke="#0080ff" stroke-width="0.5"/>
<path d="M294.47 149.92 A68.53 68.53 0 0 0 269.77 139.69 L268.00 148.56 A59.48 59.48 0 0 1 289.45 157.44 Z" fill="#49006c" stroke="#49006c" stroke-width="0.5"/>
<path d="M270.24 197.65 A16.65 16.65 0 0 0 265.65 193.06 L264.43 194.88 A14.45 14.45 0 0 1 268.42 198.87 Z" fill="#aaff00" stroke="#aaff00" stroke-width="0.5"/>
<path d="M272.35 196.25 A19.18 19.18 0 0 0 267.05 190.95 L265.65 193.06 A16.65 16.65 0 0 1 270.24 197.65 Z" fill="#e6ff00" stroke="#e6ff00" stroke-width="0.5"/>
<path d="M274.77 194.63 A22.09 22.09 0 0 0 268.67 188.53 L267.05 190.95 A19.18 19.18 0 0 1 272.35 196.25 Z" fill="#56ff00" stroke="#56ff00" stroke-width="0.5"/>
<path d="M280.78 190.61 A29.32 29.32 0 0 0 272.69 182.52 L268.67 188.53 A22.09 22.09 0 0 1 274.77 194.63 Z" fill="#00ff21" stroke="#00ff21" stroke-width="0.5"/>
<path d="M284.48 188.14 A33.77 33.77 0 0 0 275.16 178.82 L272.69 182.52 A29.32 29.32 0 0 1 280.78 190.61 Z" fill="#00a8ff" stroke="#00a8ff" stroke-width="0.5"/>
<path d="M288.75 185.28 A38.91 38.91 0 0 0 278.02 174.55 L275.16 178.82 A33.77 33.77 0 0 1 284.48 188.14 Z" fill="#002eff" stroke="#002eff" stroke-width="0.5"/>
<path d="M293.67 182.00 A44.82 44.82 0 0 0 281.30 169.63 L278.02 174.55 A38.91 38.91 0 0 1 288.75 185.28 Z" fill="#0500f9" stroke="#0500f9" stroke-width="0.5"/>
<path d="M299.33 178.21 A51.64 51.64 0 0 0 285.09 163.97 L281.30 169.63 A44.82 44.82 0 0 1 293.67 182.00 Z" fill="#4100ae" stroke="#4100ae" stroke-width="0.5"/>
<path d="M305.86 173.85 A59.48 59.48 0 0 0 289.45 157.44 L285.09 163.97 A51.64 51.64 0 0 1 299.33 178.21 Z" fill="#49006c" stroke="#49006c" stroke-width="0.5"/>
<path d="M270.57 204.08 A14.45 14.45 0 0 0 268.42 198.87 L266.83 199.93 A12.54 12.54 0 0 1 268.70 204.45 Z" fill="#ffa800" stroke="#ffa800" stroke-width="0.5"/>
<path d="M275.21 203.16 A19.18 19.18 0 0 0 272.35 196.25 L268.42 198.87 A14.45 14.45 0 0 1 270.57 204.08 Z" fill="#e6ff00" stroke="#e6ff00" stroke-width="0.5"/>
<path d="M278.07 202.59 A22.09 22.09 0 0 0 274.77 194.63 L272.35 196.25 A19.18 19.18 0 0 1 275.21 203.16 Z" fill="#aaff00" stroke="#aaff00" stroke-width="0.5"/>
<path d="M281.36 201.93 A25.45 25.45 0 0 0 277.56 192.76 L274.77 194.63 A22.09 22.09 0 0 1 278.07 202.59 Z" fill="#7dff00" stroke="#7dff00" stroke-width="0.5"/>
<path d="M285.16 201.18 A29.32 29.32 0 0 0 280.78 190.61 L277.56 192.76 A25.45 25.45 0 0 1 281.36 201.93 Z" fill="#00ff07" stroke="#00ff07" stroke-width="0.5"/>
<path d="M289.53 200.31 A33.77 33.77 0 0 0 284.48 188.14 L280.78 190.61 A29.32 29.32 0 0 1 285.16 201.18 Z" fill="#00ffcf" stroke="#00ffcf" stroke-width="0.5"/>
<path d="M294.56 199.31 A38.91 38.91 0 0 0 288.75 185.28 L284.48 188.14 A33.77 33.77 0 0 1 289.53 200.31 Z" fill="#00a8ff" stroke="#00a8ff" stroke-width="0.5"/>
<path d="M300.36 198.16 A44.82 44.82 0 0 0 293.67 182.00 L288.75 185.28 A38.91 38.91 0 0 1 294.56 199.31 Z" fill="#002eff" stroke="#002eff" stroke-width="0.5"/>
<path d="M307.04 196.83 A51.64 51.64 0 0 0 299.33 178.21 L293.67 182.00 A44.82 44.82 0 0 1 300.36 198.16 Z" fill="#4100ae" stroke="#4100ae" stroke-width="0.5"/>
<path d="M314.74 195.30 A59.48 59.48 0 0 0 305.86 173.85 L299.33 178.21 A51.64 51.64 0 0 1 307.04 196.83 Z" fill="#4900a3" stroke="#4900a3" stroke-width="0.5"/>
<path d="M272.73 210.15 A16.65 16.65 0 0 0 272.73 203.65 L268.70 204.45 A12.54 12.54 0 0 1 268.70 209.35 Z" fill="#ffdf00" stroke="#ffdf00" stroke-width="0.5"/>
<path d="M275.21 210.64 A19.18 19.18 0 0 0 275.21 203.16 L272.73 203.65 A16.65 16.65 0 0 1 272.73 210.15 Z" fill="#e6ff00" stroke="#e6ff00" stroke-width="0.5"/>
<path d="M278.07 211.21 A22.09 22.09 0 0 0 278.07 202.59 L275.21 203.16 A19.18 19.18 0 0 1 275.21 210.64 Z" fill="#aaff00" stroke="#aaff00" stroke-width="0.5"/>
<path d="M281.36 211.87 A25.45 25.45 0 0 0 281.36 201.93 L278.07 202.59 A22.09 22.09 0 0 1 278.07 211.21 Z" fill="#56ff00" stroke="#56ff00" stroke-width="0.5"/>
<path d="M285.16 212.62 A29.32 29.32 0 0 0 285.16 201.18 L281.36 201.93 A25.45 25.45 0 0 1 281.36 211.87 Z" fill="#21ff00" stroke="#21ff00" stroke-width="0.5"/>
<path d="M289.53 213.49 A33.77 33.77 0 0 0 289.53 200.31 L285.16 201.18 A29.32 29.32 0 0 1 285.16 212.62 Z" fill="#00ff21" stroke="#00ff21" stroke-width="0.5"/>
<path d="M294.56 214.49 A38.91 38.91 0 0 0 294.56 199.31 L289.53 200.31 A33.77 33.77 0 0 1 289.53 213.49 Z" fill="#00ffb3" stroke="#00ffb3" stroke-width="0.5"/>
<path d="M300.36 215.64 A44.82 44.82 0 0 0 300.36 198.16 L294.56 199.31 A38.91 38.91 0 0 1 294.56 214.49 Z" fill="#3000c3" stroke="#3000c3" stroke-width="0.5"/>
<path d="M307.04 216.97 A51.64 51.64 0 0 0 307.04 196.83 L300.36 198.16 A44.82 44.82 0 0 1 300.36 215.64 Z" fill="#49006c" stroke="#49006c" stroke-width="0.5"/>
<path d="M314.74 218.50 A59.48 59.48 0 0 0 314.74 195.30 L307.04 196.83 A51.64 51.64 0 0 1 307.04 216.97 Z" fill="#4100ae" stroke="#4100ae" stroke-width="0.5"/>
<path d="M268.42 214.93 A14.45 14.45 0 0 0 270.57 209.72 L268.70 209.35 A12.54 12.54 0 0 1 266.83 213.87 Z" fill="#ff8c00" stroke="#ff8c00" stroke-width="0.5"/>
<path d="M272.35 217.55 A19.18 19.18 0 0 0 275.21 210.64 L270.57 209.72 A14.45 14.45 0 0 1 268.42 214.93 Z" fill="#e6ff00" stroke="#e6ff00" stroke-width="0.5"/>
<path d="M277.56 221.04 A25.45 25.45 0 0 0 281.36 211.87 L275.21 210.64 A19.18 19.18 0 0 1 272.35 217.55 Z" fill="#70ff00" stroke="#70ff00" stroke-width="0.5"/>
<path d="M280.78 223.19 A29.32 29.32 0 0 0 285.16 212.62 L281.36 211.87 A25.45 25.45 0 0 1 277.56 221.04 Z" fill="#07ff00" stroke="#07ff00" stroke-width="0.5"/>
<path d="M284.48 225.66 A33.77 33.77 0 0 0 289.53 213.49 L285.16 212.62 A29.32 29.32 0 0 1 280.78 223.19 Z" fill="#00ff8a" stroke="#00ff8a" stroke-width="0.5"/>
<path d="M288.75 228.52 A38.91 38.91 0 0 0 294.56 214.49 L289.53 213.49 A33.77 33.77 0 0 1 284.48 225.66 Z" fill="#00fff8" stroke="#00fff8" stroke-width="0.5"/>
<path d="M293.67 231.80 A44.82 44.82 0 0 0 300.36 215.64 L294.56 214.49 A38.91 38.91 0 0 1 288.75 228.52 Z" fill="#0005ff" stroke="#0005ff" stroke-width="0.5"/>
<path d="M299.33 235.59 A51.64 51.64 0 0 0 307.04 216.97 L300.36 215.64 A44.82 44.82 0 0 1 293.67 231.80 Z" fill="#4c009a" stroke="#4c009a" stroke-width="0.5"/>
<path d="M263.37 217.33 A12.54 12.54 0 0 0 266.83 213.87 L265.45 212.95 A10.89 10.89 0 0 1 262.45 215.95 Z" fill="#ff7000" stroke="#ff7000" stroke-width="0.5"/>
<path d="M265.65 220.74 A16.65 16.65 0 0 0 270.24 216.15 L266.83 213.87 A12.54 12.54 0 0 1 263.37 217.33 Z" fill="#fffb00" stroke="#fffb00" stroke-width="0.5"/>
<path d="M268.67 225.27 A22.09 22.09 0 0 0 274.77 219.17 L270.24 216.15 A16.65 16.65 0 0 1 265.65 220.74 Z" fill="#70ff00" stroke="#70ff00" stroke-width="0.5"/>
<path d="M272.69 231.28 A29.32 29.32 0 0 0 280.78 223.19 L274.77 219.17 A22.09 22.09 0 0 1 268.67 225.27 Z" fill="#07ff00" stroke="#07ff00" stroke-width="0.5"/>
<path d="M275.16 234.98 A33.77 33.77 0 0 0 284.48 225.66 L280.78 223.19 A29.32 29.32 0 0 1 272.69 231.28 Z" fill="#00ff62" stroke="#00ff62" stroke-width="0.5"/>
<path d="M278.02 239.25 A38.91 38.91 0 0 0 288.75 228.52 L284.48 225.66 A33.77 33.77 0 0 1 275.16 234.98 Z" fill="#00ffcf" stroke="#00ffcf" stroke-width="0.5"/>
<path d="M281.30 244.17 A44.82 44.82 0 0 0 293.67 231.80 L288.75 228.52 A38.91 38.91 0 0 1 278.02 239.25 Z" fill="#0021ff" stroke="#0021ff" stroke-width="0.5"/>
<path d="M285.09 249.83 A51.64 51.64 0 0 0 299.33 235.59 L293.67 231.80 A44.82 44.82 0 0 1 281.30 244.17 Z" fill="#4100ae" stroke="#4100ae" stroke-width="0.5"/>
<path d="M260.71 228.57 A22.09 22.09 0 0 0 268.67 225.27 L265.65 220.74 A16.65 16.65 0 0 1 259.65 223.23 Z" fill="#c8ff00" stroke="#c8ff00" stroke-width="0.5"/>
<path d="M262.12 235.66 A29.32 29.32 0 0 0 272.69 231.28 L268.67 225.27 A22.09 22.09 0 0 1 260.71 228.57 Z" fill="#00ff07" stroke="#00ff07" stroke-width="0.5"/>
<path d="M263.99 245.06 A38.91 38.91 0 0 0 278.02 239.25 L272.69 231.28 A29.32 29.32 0 0 1 262.12 235.66 Z" fill="#00ff21" stroke="#00ff21" stroke-width="0.5"/>
<path d="M265.14 250.86 A44.82 44.82 0 0 0 281.30 244.17 L278.02 239.25 A38.91 38.91 0 0 1 263.99 245.06 Z" fill="#00ffb3" stroke="#00ffb3" stroke-width="0.5"/>
<path d="M266.47 257.54 A51.64 51.64 0 0 0 285.09 249.83 L281.30 244.17 A44.82 44.82 0 0 1 265.14 250.86 Z" fill="#003cff" stroke="#003cff" stroke-width="0.5"/>
<path d="M268.00 265.24 A59.48 59.48 0 0 0 289.45 256.36 L285.09 249.83 A51.64 51.64 0 0 1 266.47 257.54 Z" fill="#49006c" stroke="#49006c" stroke-width="0.5"/>
<path d="M250.68 235.66 A29.32 29.32 0 0 0 262.12 235.66 L260.71 228.57 A22.09 22.09 0 0 1 252.09 228.57 Z" fill="#00ffff" stroke="#00ffff" stroke-width="0.5"/>
<path d="M248.81 245.06 A38.91 38.91 0 0 0 263.99 245.06 L262.12 235.66 A29.32 29.32 0 0 1 250.68 235.66 Z" fill="#00ff21" stroke="#00ff21" stroke-width="0.5"/>
<path d="M247.66 250.86 A44.82 44.82 0 0 0 265.14 250.86 L263.99 245.06 A38.91 38.91 0 0 1 248.81 245.06 Z" fill="#00ffea" stroke="#00ffea" stroke-width="0.5"/>
<path d="M244.80 265.24 A59.48 59.48 0 0 0 268.00 265.24 L266.47 257.54 A51.64 51.64 0 0 1 246.33 257.54 Z" fill="#4a007e" stroke="#4a007e" stroke-width="0.5"/>
<path d="M241.00 284.33 A78.94 78.94 0 0 0 271.80 284.33 L268.00 265.24 A59.48 59.48 0 0 1 244.80 265.24 Z" fill="#4100ae" stroke="#4100ae" stroke-width="0.5"/>
<path d="M237.64 234.98 A33.77 33.77 0 0 0 249.81 240.03 L250.68 235.66 A29.32 29.32 0 0 1 240.11 231.28 Z" fill="#003cff" stroke="#003cff" stroke-width="0.5"/>
<path d="M231.50 244.17 A44.82 44.82 0 0 0 247.66 250.86 L248.81 245.06 A38.91 38.91 0 0 1 234.78 239.25 Z" fill="#4100ae" stroke="#4100ae" stroke-width="0.5"/>
<path d="M264.39 209.50 A8.40 8.40 0 0 0 264.70 208.21 L263.31 208.00 A7.00 7.00 0 0 1 263.06 209.06 Z" fill="#d04040" stroke="#d04040" stroke-width="0.5"/>
<path d="M265.00 206.90 A8.60 8.60 0 0 0 264.89 205.55 L263.51 205.77 A7.20 7.20 0 0 1 263.60 206.90 Z" fill="#d04040" stroke="#d04040" stroke-width="0.5"/>
<path d="M265.03 205.18 A8.80 8.80 0 0 0 264.53 203.53 L263.24 204.07 A7.40 7.40 0 0 1 263.66 205.46 Z" fill="#d85050" stroke="#d85050" stroke-width="0.5"/>
<path d="M261.98 212.06 A7.60 7.60 0 0 0 262.72 211.12 L261.56 210.34 A6.20 6.20 0 0 1 260.95 211.11 Z" fill="#d04040" stroke="#d04040" stroke-width="0.5"/>
<path d="M264.25 202.50 A9.00 9.00 0 0 0 263.68 201.61 L262.55 202.43 A7.60 7.60 0 0 1 263.03 203.19 Z" fill="#e07070" stroke="#e07070" stroke-width="0.5"/>
</g>
<rect x="190.60" y="141.10" width="131.60" height="131.60" fill="none" stroke="#303030" stroke-width="1.35"/>
<path d="M197.91 141.10v2.60M197.91 272.70v-2.60M190.60 265.39h2.60M322.20 265.39h-2.60M205.22 141.10v2.60M205.22 272.70v-2.60M190.60 258.08h2.60M322.20 258.08h-2.60M212.53 141.10v2.60M212.53 272.70v-2.60M190.60 250.77h2.60M322.20 250.77h-2.60M219.84 141.10v5.00M219.84 272.70v-5.00M190.60 243.46h5.00M322.20 243.46h-5.00M227.16 141.10v2.60M227.16 272.70v-2.60M190.60 236.14h2.60M322.20 236.14h-2.60M234.47 141.10v2.60M234.47 272.70v-2.60M190.60 228.83h2.60M322.20 228.83h-2.60M241.78 141.10v2.60M241.78 272.70v-2.60M190.60 221.52h2.60M322.20 221.52h-2.60M249.09 141.10v2.60M249.09 272.70v-2.60M190.60 214.21h2.60M322.20 214.21h-2.60M256.40 141.10v5.00M256.40 272.70v-5.00M190.60 206.90h5.00M322.20 206.90h-5.00M263.71 141.10v2.60M263.71 272.70v-2.60M190.60 199.59h2.60M322.20 199.59h-2.60M271.02 141.10v2.60M271.02 272.70v-2.60M190.60 192.28h2.60M322.20 192.28h-2.60M278.33 141.10v2.60M278.33 272.70v-2.60M190.60 184.97h2.60M322.20 184.97h-2.60M285.64 141.10v2.60M285.64 272.70v-2.60M190.60 177.66h2.60M322.20 177.66h-2.60M292.96 141.10v5.00M292.96 272.70v-5.00M190.60 170.34h5.00M322.20 170.34h-5.00M300.27 141.10v2.60M300.27 272.70v-2.60M190.60 163.03h2.60M322.20 163.03h-2.60M307.58 141.10v2.60M307.58 272.70v-2.60M190.60 155.72h2.60M322.20 155.72h-2.60M314.89 141.10v2.60M314.89 272.70v-2.60M190.60 148.41h2.60M322.20 148.41h-2.60" stroke="#303030" stroke-width="1.15" fill="none"/>
<text transform="translate(197.60 156.90) scale(1 1.070)" font-size="15">(f)</text>
<text transform="translate(219.84 292.70) scale(1 1.070)" font-size="15" text-anchor="middle">-1000</text>
<text transform="translate(256.40 292.70) scale(1 1.070)" font-size="15" text-anchor="middle">0</text>
<text transform="translate(292.96 292.70) scale(1 1.070)" font-size="15" text-anchor="middle">1000</text>
<text transform="translate(256.40 305.80) scale(1 1.070)" font-size="15" text-anchor="middle">Vx (km/s)</text>
<g clip-path="url(#c6)">
<path d="M378.17 203.65 A16.65 16.65 0 0 0 378.17 210.15 L382.20 209.35 A12.54 12.54 0 0 1 382.20 204.45 Z" fill="#56ff00" stroke="#56ff00" stroke-width="0.5"/>
<path d="M375.69 203.16 A19.18 19.18 0 0 0 375.69 210.64 L378.17 210.15 A16.65 16.65 0 0 1 378.17 203.65 Z" fill="#ffed00" stroke="#ffed00" stroke-width="0.5"/>
<path d="M365.74 201.18 A29.32 29.32 0 0 0 365.74 212.62 L375.69 210.64 A19.18 19.18 0 0 1 375.69 203.16 Z" fill="#ff0000" stroke="#ff0000" stroke-width="0.5"/>
<path d="M361.37 200.31 A33.77 33.77 0 0 0 361.37 213.49 L365.74 212.62 A29.32 29.32 0 0 1 365.74 201.18 Z" fill="#ffa800" stroke="#ffa800" stroke-width="0.5"/>
<path d="M356.34 199.31 A38.91 38.91 0 0 0 356.34 214.49 L361.37 213.49 A33.77 33.77 0 0 1 361.37 200.31 Z" fill="#e6ff00" stroke="#e6ff00" stroke-width="0.5"/>
<path d="M350.54 198.16 A44.82 44.82 0 0 0 350.54 215.64 L356.34 214.49 A38.91 38.91 0 0 1 356.34 199.31 Z" fill="#3bff00" stroke="#3bff00" stroke-width="0.5"/>
<path d="M343.86 196.83 A51.64 51.64 0 0 0 343.86 216.97 L350.54 215.64 A44.82 44.82 0 0 1 350.54 198.16 Z" fill="#0057ff" stroke="#0057ff" stroke-width="0.5"/>
<path d="M378.55 196.25 A19.18 19.18 0 0 0 375.69 203.16 L378.17 203.65 A16.65 16.65 0 0 1 380.66 197.65 Z" fill="#3bff00" stroke="#3bff00" stroke-width="0.5"/>
<path d="M370.12 190.61 A29.32 29.32 0 0 0 365.74 201.18 L375.69 203.16 A19.18 19.18 0 0 1 378.55 196.25 Z" fill="#ff0000" stroke="#ff0000" stroke-width="0.5"/>
<path d="M366.42 188.14 A33.77 33.77 0 0 0 361.37 200.31 L365.74 201.18 A29.32 29.32 0 0 1 370.12 190.61 Z" fill="#ff1e00" stroke="#ff1e00" stroke-width="0.5"/>
<path d="M362.15 185.28 A38.91 38.91 0 0 0 356.34 199.31 L361.37 200.31 A33.77 33.77 0 0 1 366.42 188.14 Z" fill="#ff3900" stroke="#ff3900" stroke-width="0.5"/>
<path d="M357.23 182.00 A44.82 44.82 0 0 0 350.54 198.16 L356.34 199.31 A38.91 38.91 0 0 1 362.15 185.28 Z" fill="#3bff00" stroke="#3bff00" stroke-width="0.5"/>
<path d="M351.57 178.21 A51.64 51.64 0 0 0 343.86 196.83 L350.54 198.16 A44.82 44.82 0 0 1 357.23 182.00 Z" fill="#0005ff" stroke="#0005ff" stroke-width="0.5"/>
<path d="M372.88 174.55 A38.91 38.91 0 0 0 362.15 185.28 L366.42 188.14 A33.77 33.77 0 0 1 375.74 178.82 Z" fill="#0005ff" stroke="#0005ff" stroke-width="0.5"/>
<path d="M400.22 178.14 A29.32 29.32 0 0 0 388.78 178.14 L389.53 181.94 A25.45 25.45 0 0 1 399.47 181.94 Z" fill="#00ffff" stroke="#00ffff" stroke-width="0.5"/>
<path d="M401.09 173.77 A33.77 33.77 0 0 0 387.91 173.77 L388.78 178.14 A29.32 29.32 0 0 1 400.22 178.14 Z" fill="#00a8ff" stroke="#00a8ff" stroke-width="0.5"/>
<path d="M402.09 168.74 A38.91 38.91 0 0 0 386.91 168.74 L387.91 173.77 A33.77 33.77 0 0 1 401.09 173.77 Z" fill="#0005ff" stroke="#0005ff" stroke-width="0.5"/>
<path d="M404.57 156.26 A51.64 51.64 0 0 0 384.43 156.26 L386.91 168.74 A38.91 38.91 0 0 1 402.09 168.74 Z" fill="#4100ae" stroke="#4100ae" stroke-width="0.5"/>
<path d="M406.10 148.56 A59.48 59.48 0 0 0 382.90 148.56 L384.43 156.26 A51.64 51.64 0 0 1 404.57 156.26 Z" fill="#49006c" stroke="#49006c" stroke-width="0.5"/>
<path d="M409.90 129.47 A78.94 78.94 0 0 0 379.10 129.47 L382.90 148.56 A59.48 59.48 0 0 1 406.10 148.56 Z" fill="#0005ff" stroke="#0005ff" stroke-width="0.5"/>
<path d="M408.64 185.74 A25.45 25.45 0 0 0 399.47 181.94 L398.24 188.09 A19.18 19.18 0 0 1 405.15 190.95 Z" fill="#21ff00" stroke="#21ff00" stroke-width="0.5"/>
<path d="M413.26 178.82 A33.77 33.77 0 0 0 401.09 173.77 L399.47 181.94 A25.45 25.45 0 0 1 408.64 185.74 Z" fill="#00a8ff" stroke="#00a8ff" stroke-width="0.5"/>
<path d="M416.12 174.55 A38.91 38.91 0 0 0 402.09 168.74 L401.09 173.77 A33.77 33.77 0 0 1 413.26 178.82 Z" fill="#00ebff" stroke="#00ebff" stroke-width="0.5"/>
<path d="M419.40 169.63 A44.82 44.82 0 0 0 403.24 162.94 L402.09 168.74 A38.91 38.91 0 0 1 416.12 174.55 Z" fill="#008dff" stroke="#008dff" stroke-width="0.5"/>
<path d="M427.55 157.44 A59.48 59.48 0 0 0 406.10 148.56 L403.24 162.94 A44.82 44.82 0 0 1 419.40 169.63 Z" fill="#0005ff" stroke="#0005ff" stroke-width="0.5"/>
<path d="M432.57 149.92 A68.53 68.53 0 0 0 407.87 139.69 L406.10 148.56 A59.48 59.48 0 0 1 427.55 157.44 Z" fill="#004aff" stroke="#004aff" stroke-width="0.5"/>
<path d="M408.34 197.65 A16.65 16.65 0 0 0 403.75 193.06 L401.47 196.47 A12.54 12.54 0 0 1 404.93 199.93 Z" fill="#ffdf00" stroke="#ffdf00" stroke-width="0.5"/>
<path d="M412.87 194.63 A22.09 22.09 0 0 0 406.77 188.53 L403.75 193.06 A16.65 16.65 0 0 1 408.34 197.65 Z" fill="#21ff00" stroke="#21ff00" stroke-width="0.5"/>
<path d="M418.88 190.61 A29.32 29.32 0 0 0 410.79 182.52 L406.77 188.53 A22.09 22.09 0 0 1 412.87 194.63 Z" fill="#00ff21" stroke="#00ff21" stroke-width="0.5"/>
<path d="M422.58 188.14 A33.77 33.77 0 0 0 413.26 178.82 L410.79 182.52 A29.32 29.32 0 0 1 418.88 190.61 Z" fill="#00ff8a" stroke="#00ff8a" stroke-width="0.5"/>
<path d="M426.85 185.28 A38.91 38.91 0 0 0 416.12 174.55 L413.26 178.82 A33.77 33.77 0 0 1 422.58 188.14 Z" fill="#00ebff" stroke="#00ebff" stroke-width="0.5"/>
<path d="M431.77 182.00 A44.82 44.82 0 0 0 419.40 169.63 L416.12 174.55 A38.91 38.91 0 0 1 426.85 185.28 Z" fill="#008dff" stroke="#008dff" stroke-width="0.5"/>
<path d="M437.43 178.21 A51.64 51.64 0 0 0 423.19 163.97 L419.40 169.63 A44.82 44.82 0 0 1 431.77 182.00 Z" fill="#0500f9" stroke="#0500f9" stroke-width="0.5"/>
<path d="M443.96 173.85 A59.48 59.48 0 0 0 427.55 157.44 L423.19 163.97 A51.64 51.64 0 0 1 437.43 178.21 Z" fill="#49006c" stroke="#49006c" stroke-width="0.5"/>
<path d="M406.80 204.45 A12.54 12.54 0 0 0 404.93 199.93 L402.36 201.65 A9.45 9.45 0 0 1 403.77 205.06 Z" fill="#ffc300" stroke="#ffc300" stroke-width="0.5"/>
<path d="M410.83 203.65 A16.65 16.65 0 0 0 408.34 197.65 L404.93 199.93 A12.54 12.54 0 0 1 406.80 204.45 Z" fill="#fffb00" stroke="#fffb00" stroke-width="0.5"/>
<path d="M413.31 203.16 A19.18 19.18 0 0 0 410.45 196.25 L408.34 197.65 A16.65 16.65 0 0 1 410.83 203.65 Z" fill="#8cff00" stroke="#8cff00" stroke-width="0.5"/>
<path d="M419.46 201.93 A25.45 25.45 0 0 0 415.66 192.76 L410.45 196.25 A19.18 19.18 0 0 1 413.31 203.16 Z" fill="#21ff00" stroke="#21ff00" stroke-width="0.5"/>
<path d="M427.63 200.31 A33.77 33.77 0 0 0 422.58 188.14 L415.66 192.76 A25.45 25.45 0 0 1 419.46 201.93 Z" fill="#00ff21" stroke="#00ff21" stroke-width="0.5"/>
<path d="M432.66 199.31 A38.91 38.91 0 0 0 426.85 185.28 L422.58 188.14 A33.77 33.77 0 0 1 427.63 200.31 Z" fill="#00ff8a" stroke="#00ff8a" stroke-width="0.5"/>
<path d="M438.46 198.16 A44.82 44.82 0 0 0 431.77 182.00 L426.85 185.28 A38.91 38.91 0 0 1 432.66 199.31 Z" fill="#00f8ff" stroke="#00f8ff" stroke-width="0.5"/>
<path d="M445.14 196.83 A51.64 51.64 0 0 0 437.43 178.21 L431.77 182.00 A44.82 44.82 0 0 1 438.46 198.16 Z" fill="#0500f9" stroke="#0500f9" stroke-width="0.5"/>
<path d="M406.80 209.35 A12.54 12.54 0 0 0 406.80 204.45 L403.77 205.06 A9.45 9.45 0 0 1 403.77 208.74 Z" fill="#ffc300" stroke="#ffc300" stroke-width="0.5"/>
<path d="M410.83 210.15 A16.65 16.65 0 0 0 410.83 203.65 L406.80 204.45 A12.54 12.54 0 0 1 406.80 209.35 Z" fill="#aaff00" stroke="#aaff00" stroke-width="0.5"/>
<path d="M419.46 211.87 A25.45 25.45 0 0 0 419.46 201.93 L410.83 203.65 A16.65 16.65 0 0 1 410.83 210.15 Z" fill="#3bff00" stroke="#3bff00" stroke-width="0.5"/>
<path d="M432.66 214.49 A38.91 38.91 0 0 0 432.66 199.31 L419.46 201.93 A25.45 25.45 0 0 1 419.46 211.87 Z" fill="#00ff07" stroke="#00ff07" stroke-width="0.5"/>
<path d="M438.46 215.64 A44.82 44.82 0 0 0 438.46 198.16 L432.66 199.31 A38.91 38.91 0 0 1 432.66 214.49 Z" fill="#00deff" stroke="#00deff" stroke-width="0.5"/>
<path d="M452.84 218.50 A59.48 59.48 0 0 0 452.84 195.30 L438.46 198.16 A44.82 44.82 0 0 1 438.46 215.64 Z" fill="#49006c" stroke="#49006c" stroke-width="0.5"/>
<path d="M404.93 213.87 A12.54 12.54 0 0 0 406.80 209.35 L403.77 208.74 A9.45 9.45 0 0 1 402.36 212.15 Z" fill="#ffa800" stroke="#ffa800" stroke-width="0.5"/>
<path d="M406.52 214.93 A14.45 14.45 0 0 0 408.67 209.72 L406.80 209.35 A12.54 12.54 0 0 1 404.93 213.87 Z" fill="#ff5500" stroke="#ff5500" stroke-width="0.5"/>
<path d="M410.45 217.55 A19.18 19.18 0 0 0 413.31 210.64 L408.67 209.72 A14.45 14.45 0 0 1 406.52 214.93 Z" fill="#c8ff00" stroke="#c8ff00" stroke-width="0.5"/>
<path d="M415.66 221.04 A25.45 25.45 0 0 0 419.46 211.87 L413.31 210.64 A19.18 19.18 0 0 1 410.45 217.55 Z" fill="#3bff00" stroke="#3bff00" stroke-width="0.5"/>
<path d="M422.58 225.66 A33.77 33.77 0 0 0 427.63 213.49 L419.46 211.87 A25.45 25.45 0 0 1 415.66 221.04 Z" fill="#00ff07" stroke="#00ff07" stroke-width="0.5"/>
<path d="M426.85 228.52 A38.91 38.91 0 0 0 432.66 214.49 L427.63 213.49 A33.77 33.77 0 0 1 422.58 225.66 Z" fill="#00ff21" stroke="#00ff21" stroke-width="0.5"/>
<path d="M431.77 231.80 A44.82 44.82 0 0 0 438.46 215.64 L432.66 214.49 A38.91 38.91 0 0 1 426.85 228.52 Z" fill="#00f8ff" stroke="#00f8ff" stroke-width="0.5"/>
<path d="M437.43 235.59 A51.64 51.64 0 0 0 445.14 216.97 L438.46 215.64 A44.82 44.82 0 0 1 431.77 231.80 Z" fill="#4100ae" stroke="#4100ae" stroke-width="0.5"/>
<path d="M403.75 220.74 A16.65 16.65 0 0 0 408.34 216.15 L404.93 213.87 A12.54 12.54 0 0 1 401.47 217.33 Z" fill="#e6ff00" stroke="#e6ff00" stroke-width="0.5"/>
<path d="M406.77 225.27 A22.09 22.09 0 0 0 412.87 219.17 L408.34 216.15 A16.65 16.65 0 0 1 403.75 220.74 Z" fill="#56ff00" stroke="#56ff00" stroke-width="0.5"/>
<path d="M410.79 231.28 A29.32 29.32 0 0 0 418.88 223.19 L412.87 219.17 A22.09 22.09 0 0 1 406.77 225.27 Z" fill="#00ff07" stroke="#00ff07" stroke-width="0.5"/>
<path d="M413.26 234.98 A33.77 33.77 0 0 0 422.58 225.66 L418.88 223.19 A29.32 29.32 0 0 1 410.79 231.28 Z" fill="#00ff48" stroke="#00ff48" stroke-width="0.5"/>
<path d="M416.12 239.25 A38.91 38.91 0 0 0 426.85 228.52 L422.58 225.66 A33.77 33.77 0 0 1 413.26 234.98 Z" fill="#0080ff" stroke="#0080ff" stroke-width="0.5"/>
<path d="M419.40 244.17 A44.82 44.82 0 0 0 431.77 231.80 L426.85 228.52 A38.91 38.91 0 0 1 416.12 239.25 Z" fill="#003cff" stroke="#003cff" stroke-width="0.5"/>
<path d="M423.19 249.83 A51.64 51.64 0 0 0 437.43 235.59 L431.77 231.80 A44.82 44.82 0 0 1 419.40 244.17 Z" fill="#4100ae" stroke="#4100ae" stroke-width="0.5"/>
<path d="M432.57 263.88 A68.53 68.53 0 0 0 451.48 244.97 L443.96 239.95 A59.48 59.48 0 0 1 427.55 256.36 Z" fill="#0500f9" stroke="#0500f9" stroke-width="0.5"/>
<path d="M438.36 272.54 A78.94 78.94 0 0 0 460.14 250.76 L451.48 244.97 A68.53 68.53 0 0 1 432.57 263.88 Z" fill="#49006c" stroke="#49006c" stroke-width="0.5"/>
<path d="M398.81 228.57 A22.09 22.09 0 0 0 406.77 225.27 L405.15 222.85 A19.18 19.18 0 0 1 398.24 225.71 Z" fill="#3bff00" stroke="#3bff00" stroke-width="0.5"/>
<path d="M400.22 235.66 A29.32 29.32 0 0 0 410.79 231.28 L406.77 225.27 A22.09 22.09 0 0 1 398.81 228.57 Z" fill="#00ff07" stroke="#00ff07" stroke-width="0.5"/>
<path d="M401.09 240.03 A33.77 33.77 0 0 0 413.26 234.98 L410.79 231.28 A29.32 29.32 0 0 1 400.22 235.66 Z" fill="#00ff8a" stroke="#00ff8a" stroke-width="0.5"/>
<path d="M402.09 245.06 A38.91 38.91 0 0 0 416.12 239.25 L413.26 234.98 A33.77 33.77 0 0 1 401.09 240.03 Z" fill="#00ebff" stroke="#00ebff" stroke-width="0.5"/>
<path d="M403.24 250.86 A44.82 44.82 0 0 0 419.40 244.17 L416.12 239.25 A38.91 38.91 0 0 1 402.09 245.06 Z" fill="#0065ff" stroke="#0065ff" stroke-width="0.5"/>
<path d="M404.57 257.54 A51.64 51.64 0 0 0 423.19 249.83 L419.40 244.17 A44.82 44.82 0 0 1 403.24 250.86 Z" fill="#4100ae" stroke="#4100ae" stroke-width="0.5"/>
<path d="M389.53 231.86 A25.45 25.45 0 0 0 399.47 231.86 L398.24 225.71 A19.18 19.18 0 0 1 390.76 225.71 Z" fill="#21ff00" stroke="#21ff00" stroke-width="0.5"/>
<path d="M387.91 240.03 A33.77 33.77 0 0 0 401.09 240.03 L399.47 231.86 A25.45 25.45 0 0 1 389.53 231.86 Z" fill="#21ff00" stroke="#21ff00" stroke-width="0.5"/>
<path d="M385.76 250.86 A44.82 44.82 0 0 0 403.24 250.86 L401.09 240.03 A33.77 33.77 0 0 1 387.91 240.03 Z" fill="#00ff8a" stroke="#00ff8a" stroke-width="0.5"/>
<path d="M384.43 257.54 A51.64 51.64 0 0 0 404.57 257.54 L403.24 250.86 A44.82 44.82 0 0 1 385.76 250.86 Z" fill="#00a8ff" stroke="#00a8ff" stroke-width="0.5"/>
<path d="M382.90 265.24 A59.48 59.48 0 0 0 406.10 265.24 L404.57 257.54 A51.64 51.64 0 0 1 384.43 257.54 Z" fill="#0005ff" stroke="#0005ff" stroke-width="0.5"/>
<path d="M372.88 239.25 A38.91 38.91 0 0 0 386.91 245.06 L387.91 240.03 A33.77 33.77 0 0 1 375.74 234.98 Z" fill="#00ebff" stroke="#00ebff" stroke-width="0.5"/>
<path d="M369.60 244.17 A44.82 44.82 0 0 0 385.76 250.86 L386.91 245.06 A38.91 38.91 0 0 1 372.88 239.25 Z" fill="#00a8ff" stroke="#00a8ff" stroke-width="0.5"/>
<path d="M365.81 249.83 A51.64 51.64 0 0 0 384.43 257.54 L385.76 250.86 A44.82 44.82 0 0 1 369.60 244.17 Z" fill="#0057ff" stroke="#0057ff" stroke-width="0.5"/>
<path d="M361.45 256.36 A59.48 59.48 0 0 0 382.90 265.24 L384.43 257.54 A51.64 51.64 0 0 1 365.81 249.83 Z" fill="#0005ff" stroke="#0005ff" stroke-width="0.5"/>
<path d="M402.35 208.46 A8.00 8.00 0 0 0 402.49 206.59 L401.49 206.63 A7.00 7.00 0 0 1 401.37 208.27 Z" fill="#e04848" stroke="#e04848" stroke-width="0.5"/>
<path d="M401.63 210.53 A8.00 8.00 0 0 0 402.20 209.07 L401.24 208.80 A7.00 7.00 0 0 1 400.74 210.08 Z" fill="#e04848" stroke="#e04848" stroke-width="0.5"/>
<path d="M402.49 206.59 A8.00 8.00 0 0 0 402.40 205.65 L401.41 205.80 A7.00 7.00 0 0 1 401.49 206.63 Z" fill="#e06060" stroke="#e06060" stroke-width="0.5"/>
</g>
<rect x="328.80" y="141.10" width="131.40" height="131.60" fill="none" stroke="#303030" stroke-width="1.35"/>
<path d="M336.10 141.10v2.60M336.10 272.70v-2.60M328.80 265.30h2.60M460.20 265.30h-2.60M343.40 141.10v2.60M343.40 272.70v-2.60M328.80 258.00h2.60M460.20 258.00h-2.60M350.70 141.10v2.60M350.70 272.70v-2.60M328.80 250.70h2.60M460.20 250.70h-2.60M358.00 141.10v5.00M358.00 272.70v-5.00M328.80 243.40h5.00M460.20 243.40h-5.00M365.30 141.10v2.60M365.30 272.70v-2.60M328.80 236.10h2.60M460.20 236.10h-2.60M372.60 141.10v2.60M372.60 272.70v-2.60M328.80 228.80h2.60M460.20 228.80h-2.60M379.90 141.10v2.60M379.90 272.70v-2.60M328.80 221.50h2.60M460.20 221.50h-2.60M387.20 141.10v2.60M387.20 272.70v-2.60M328.80 214.20h2.60M460.20 214.20h-2.60M394.50 141.10v5.00M394.50 272.70v-5.00M328.80 206.90h5.00M460.20 206.90h-5.00M401.80 141.10v2.60M401.80 272.70v-2.60M328.80 199.60h2.60M460.20 199.60h-2.60M409.10 141.10v2.60M409.10 272.70v-2.60M328.80 192.30h2.60M460.20 192.30h-2.60M416.40 141.10v2.60M416.40 272.70v-2.60M328.80 185.00h2.60M460.20 185.00h-2.60M423.70 141.10v2.60M423.70 272.70v-2.60M328.80 177.70h2.60M460.20 177.70h-2.60M431.00 141.10v5.00M431.00 272.70v-5.00M328.80 170.40h5.00M460.20 170.40h-5.00M438.30 141.10v2.60M438.30 272.70v-2.60M328.80 163.10h2.60M460.20 163.10h-2.60M445.60 141.10v2.60M445.60 272.70v-2.60M328.80 155.80h2.60M460.20 155.80h-2.60M452.90 141.10v2.60M452.90 272.70v-2.60M328.80 148.50h2.60M460.20 148.50h-2.60" stroke="#303030" stroke-width="1.15" fill="none"/>
<text transform="translate(335.80 156.90) scale(1 1.070)" font-size="15">(g)</text>
<text transform="translate(358.00 292.70) scale(1 1.070)" font-size="15" text-anchor="middle">-1000</text>
<text transform="translate(394.50 292.70) scale(1 1.070)" font-size="15" text-anchor="middle">0</text>
<text transform="translate(431.00 292.70) scale(1 1.070)" font-size="15" text-anchor="middle">1000</text>
<text transform="translate(394.50 305.80) scale(1 1.070)" font-size="15" text-anchor="middle">Vx (km/s)</text>
<g clip-path="url(#c7)">
<path d="M494.39 199.31 A38.91 38.91 0 0 0 494.39 214.49 L518.38 209.72 A14.45 14.45 0 0 1 518.38 204.08 Z" fill="#ff0000" stroke="#ff0000" stroke-width="0.5"/>
<path d="M488.59 198.16 A44.82 44.82 0 0 0 488.59 215.64 L494.39 214.49 A38.91 38.91 0 0 1 494.39 199.31 Z" fill="#9bff00" stroke="#9bff00" stroke-width="0.5"/>
<path d="M481.91 196.83 A51.64 51.64 0 0 0 481.91 216.97 L488.59 215.64 A44.82 44.82 0 0 1 488.59 198.16 Z" fill="#00b5ff" stroke="#00b5ff" stroke-width="0.5"/>
<path d="M514.18 194.63 A22.09 22.09 0 0 0 510.88 202.59 L513.74 203.16 A19.18 19.18 0 0 1 516.60 196.25 Z" fill="#ff3900" stroke="#ff3900" stroke-width="0.5"/>
<path d="M508.17 190.61 A29.32 29.32 0 0 0 503.79 201.18 L510.88 202.59 A22.09 22.09 0 0 1 514.18 194.63 Z" fill="#ff0000" stroke="#ff0000" stroke-width="0.5"/>
<path d="M504.47 188.14 A33.77 33.77 0 0 0 499.42 200.31 L503.79 201.18 A29.32 29.32 0 0 1 508.17 190.61 Z" fill="#c8ff00" stroke="#c8ff00" stroke-width="0.5"/>
<path d="M500.20 185.28 A38.91 38.91 0 0 0 494.39 199.31 L499.42 200.31 A33.77 33.77 0 0 1 504.47 188.14 Z" fill="#ffa800" stroke="#ffa800" stroke-width="0.5"/>
<path d="M495.28 182.00 A44.82 44.82 0 0 0 488.59 198.16 L494.39 199.31 A38.91 38.91 0 0 1 500.20 185.28 Z" fill="#7dff00" stroke="#7dff00" stroke-width="0.5"/>
<path d="M489.62 178.21 A51.64 51.64 0 0 0 481.91 196.83 L488.59 198.16 A44.82 44.82 0 0 1 495.28 182.00 Z" fill="#00b5ff" stroke="#00b5ff" stroke-width="0.5"/>
<path d="M518.41 185.74 A25.45 25.45 0 0 0 511.39 192.76 L514.18 194.63 A22.09 22.09 0 0 1 520.28 188.53 Z" fill="#00ff21" stroke="#00ff21" stroke-width="0.5"/>
<path d="M503.79 212.62 A29.32 29.32 0 0 0 505.46 218.12 L512.14 215.35 A22.09 22.09 0 0 1 510.88 211.21 Z" fill="#ff0000" stroke="#ff0000" stroke-width="0.5"/>
<path d="M509.04 216.64 A25.45 25.45 0 0 0 511.39 221.04 L514.18 219.17 A22.09 22.09 0 0 1 512.14 215.35 Z" fill="#ff0000" stroke="#ff0000" stroke-width="0.5"/>
<path d="M505.46 218.12 A29.32 29.32 0 0 0 508.17 223.19 L511.39 221.04 A25.45 25.45 0 0 1 509.04 216.64 Z" fill="#00ff07" stroke="#00ff07" stroke-width="0.5"/>
<path d="M513.74 210.64 A19.18 19.18 0 0 0 516.60 217.55 L518.71 216.15 A16.65 16.65 0 0 1 516.22 210.15 Z" fill="#ffa800" stroke="#ffa800" stroke-width="0.5"/>
<path d="M516.22 210.15 A16.65 16.65 0 0 0 518.71 216.15 L520.53 214.93 A14.45 14.45 0 0 1 518.38 209.72 Z" fill="#c8ff00" stroke="#c8ff00" stroke-width="0.5"/>
<path d="M510.88 211.21 A22.09 22.09 0 0 0 514.18 219.17 L516.60 217.55 A19.18 19.18 0 0 1 513.74 210.64 Z" fill="#ff5500" stroke="#ff5500" stroke-width="0.5"/>
<path d="M542.62 156.26 A51.64 51.64 0 0 0 522.48 156.26 L523.81 162.94 A44.82 44.82 0 0 1 541.29 162.94 Z" fill="#0005ff" stroke="#0005ff" stroke-width="0.5"/>
<path d="M544.15 148.56 A59.48 59.48 0 0 0 520.95 148.56 L522.48 156.26 A51.64 51.64 0 0 1 542.62 156.26 Z" fill="#49006c" stroke="#49006c" stroke-width="0.5"/>
<path d="M539.52 196.47 A12.54 12.54 0 0 0 535.00 194.60 L534.67 196.22 A10.89 10.89 0 0 1 538.60 197.85 Z" fill="#ffa800" stroke="#ffa800" stroke-width="0.5"/>
<path d="M551.31 178.82 A33.77 33.77 0 0 0 539.14 173.77 L537.52 181.94 A25.45 25.45 0 0 1 546.69 185.74 Z" fill="#00a8ff" stroke="#00a8ff" stroke-width="0.5"/>
<path d="M554.17 174.55 A38.91 38.91 0 0 0 540.14 168.74 L539.14 173.77 A33.77 33.77 0 0 1 551.31 178.82 Z" fill="#003cff" stroke="#003cff" stroke-width="0.5"/>
<path d="M557.45 169.63 A44.82 44.82 0 0 0 541.29 162.94 L540.14 168.74 A38.91 38.91 0 0 1 554.17 174.55 Z" fill="#0021ff" stroke="#0021ff" stroke-width="0.5"/>
<path d="M565.60 157.44 A59.48 59.48 0 0 0 544.15 148.56 L541.29 162.94 A44.82 44.82 0 0 1 557.45 169.63 Z" fill="#0005ff" stroke="#0005ff" stroke-width="0.5"/>
<path d="M546.39 197.65 A16.65 16.65 0 0 0 541.80 193.06 L540.58 194.88 A14.45 14.45 0 0 1 544.57 198.87 Z" fill="#00ff21" stroke="#00ff21" stroke-width="0.5"/>
<path d="M550.92 194.63 A22.09 22.09 0 0 0 544.82 188.53 L543.20 190.95 A19.18 19.18 0 0 1 548.50 196.25 Z" fill="#00ff21" stroke="#00ff21" stroke-width="0.5"/>
<path d="M556.93 190.61 A29.32 29.32 0 0 0 548.84 182.52 L546.69 185.74 A25.45 25.45 0 0 1 553.71 192.76 Z" fill="#00f8ff" stroke="#00f8ff" stroke-width="0.5"/>
<path d="M564.90 185.28 A38.91 38.91 0 0 0 554.17 174.55 L551.31 178.82 A33.77 33.77 0 0 1 560.63 188.14 Z" fill="#003cff" stroke="#003cff" stroke-width="0.5"/>
<path d="M569.82 182.00 A44.82 44.82 0 0 0 557.45 169.63 L554.17 174.55 A38.91 38.91 0 0 1 564.90 185.28 Z" fill="#4100ae" stroke="#4100ae" stroke-width="0.5"/>
<path d="M582.01 173.85 A59.48 59.48 0 0 0 565.60 157.44 L561.24 163.97 A51.64 51.64 0 0 1 575.48 178.21 Z" fill="#0005ff" stroke="#0005ff" stroke-width="0.5"/>
<path d="M541.74 206.54 A9.20 9.20 0 0 0 541.57 205.11 L540.40 205.34 A8.00 8.00 0 0 1 540.54 206.59 Z" fill="#c84040" stroke="#c84040" stroke-width="0.5"/>
<path d="M557.51 201.93 A25.45 25.45 0 0 0 553.71 192.76 L548.50 196.25 A19.18 19.18 0 0 1 551.36 203.16 Z" fill="#21ff00" stroke="#21ff00" stroke-width="0.5"/>
<path d="M561.31 201.18 A29.32 29.32 0 0 0 556.93 190.61 L553.71 192.76 A25.45 25.45 0 0 1 557.51 201.93 Z" fill="#00ff21" stroke="#00ff21" stroke-width="0.5"/>
<path d="M565.68 200.31 A33.77 33.77 0 0 0 560.63 188.14 L556.93 190.61 A29.32 29.32 0 0 1 561.31 201.18 Z" fill="#00fff8" stroke="#00fff8" stroke-width="0.5"/>
<path d="M570.71 199.31 A38.91 38.91 0 0 0 564.90 185.28 L560.63 188.14 A33.77 33.77 0 0 1 565.68 200.31 Z" fill="#0080ff" stroke="#0080ff" stroke-width="0.5"/>
<path d="M576.51 198.16 A44.82 44.82 0 0 0 569.82 182.00 L564.90 185.28 A38.91 38.91 0 0 1 570.71 199.31 Z" fill="#00a8ff" stroke="#00a8ff" stroke-width="0.5"/>
<path d="M583.19 196.83 A51.64 51.64 0 0 0 580.26 187.14 L573.96 189.75 A44.82 44.82 0 0 1 576.51 198.16 Z" fill="#0005ff" stroke="#0005ff" stroke-width="0.5"/>
<path d="M590.89 195.30 A59.48 59.48 0 0 0 582.01 173.85 L575.48 178.21 A51.64 51.64 0 0 1 583.19 196.83 Z" fill="#49006c" stroke="#49006c" stroke-width="0.5"/>
<path d="M541.40 209.40 A9.20 9.20 0 0 0 541.64 208.34 L540.45 208.15 A8.00 8.00 0 0 1 540.25 209.07 Z" fill="#d05050" stroke="#d05050" stroke-width="0.5"/>
<path d="M548.88 210.15 A16.65 16.65 0 0 0 548.88 203.65 L546.72 204.08 A14.45 14.45 0 0 1 546.72 209.72 Z" fill="#c8ff00" stroke="#c8ff00" stroke-width="0.5"/>
<path d="M551.36 210.64 A19.18 19.18 0 0 0 551.36 203.16 L548.88 203.65 A16.65 16.65 0 0 1 548.88 210.15 Z" fill="#3bff00" stroke="#3bff00" stroke-width="0.5"/>
<path d="M565.68 213.49 A33.77 33.77 0 0 0 565.68 200.31 L551.36 203.16 A19.18 19.18 0 0 1 551.36 210.64 Z" fill="#00ff21" stroke="#00ff21" stroke-width="0.5"/>
<path d="M570.71 214.49 A38.91 38.91 0 0 0 570.71 199.31 L565.68 200.31 A33.77 33.77 0 0 1 565.68 213.49 Z" fill="#00ff48" stroke="#00ff48" stroke-width="0.5"/>
<path d="M576.51 215.64 A44.82 44.82 0 0 0 576.51 198.16 L570.71 199.31 A38.91 38.91 0 0 1 570.71 214.49 Z" fill="#00ffcf" stroke="#00ffcf" stroke-width="0.5"/>
<path d="M583.19 216.97 A51.64 51.64 0 0 0 583.19 196.83 L576.51 198.16 A44.82 44.82 0 0 1 576.51 215.64 Z" fill="#0005ff" stroke="#0005ff" stroke-width="0.5"/>
<path d="M590.89 218.50 A59.48 59.48 0 0 0 590.89 195.30 L583.19 196.83 A51.64 51.64 0 0 1 583.19 216.97 Z" fill="#49006c" stroke="#49006c" stroke-width="0.5"/>
<path d="M546.39 216.15 A16.65 16.65 0 0 0 548.88 210.15 L546.72 209.72 A14.45 14.45 0 0 1 544.57 214.93 Z" fill="#ffed00" stroke="#ffed00" stroke-width="0.5"/>
<path d="M553.71 221.04 A25.45 25.45 0 0 0 557.51 211.87 L548.88 210.15 A16.65 16.65 0 0 1 546.39 216.15 Z" fill="#21ff00" stroke="#21ff00" stroke-width="0.5"/>
<path d="M556.93 223.19 A29.32 29.32 0 0 0 561.31 212.62 L557.51 211.87 A25.45 25.45 0 0 1 553.71 221.04 Z" fill="#00ff48" stroke="#00ff48" stroke-width="0.5"/>
<path d="M560.63 225.66 A33.77 33.77 0 0 0 565.68 213.49 L561.31 212.62 A29.32 29.32 0 0 1 556.93 223.19 Z" fill="#00ff98" stroke="#00ff98" stroke-width="0.5"/>
<path d="M564.90 228.52 A38.91 38.91 0 0 0 570.71 214.49 L565.68 213.49 A33.77 33.77 0 0 1 560.63 225.66 Z" fill="#0080ff" stroke="#0080ff" stroke-width="0.5"/>
<path d="M569.82 231.80 A44.82 44.82 0 0 0 576.51 215.64 L570.71 214.49 A38.91 38.91 0 0 1 564.90 228.52 Z" fill="#0005ff" stroke="#0005ff" stroke-width="0.5"/>
<path d="M575.48 235.59 A51.64 51.64 0 0 0 583.19 216.97 L576.51 215.64 A44.82 44.82 0 0 1 569.82 231.80 Z" fill="#4100ae" stroke="#4100ae" stroke-width="0.5"/>
<path d="M541.80 220.74 A16.65 16.65 0 0 0 546.39 216.15 L544.57 214.93 A14.45 14.45 0 0 1 540.58 218.92 Z" fill="#ffed00" stroke="#ffed00" stroke-width="0.5"/>
<path d="M546.69 228.06 A25.45 25.45 0 0 0 553.71 221.04 L546.39 216.15 A16.65 16.65 0 0 1 541.80 220.74 Z" fill="#3bff00" stroke="#3bff00" stroke-width="0.5"/>
<path d="M548.84 231.28 A29.32 29.32 0 0 0 556.93 223.19 L553.71 221.04 A25.45 25.45 0 0 1 546.69 228.06 Z" fill="#00ff2e" stroke="#00ff2e" stroke-width="0.5"/>
<path d="M551.31 234.98 A33.77 33.77 0 0 0 560.63 225.66 L556.93 223.19 A29.32 29.32 0 0 1 548.84 231.28 Z" fill="#00ff8a" stroke="#00ff8a" stroke-width="0.5"/>
<path d="M554.17 239.25 A38.91 38.91 0 0 0 564.90 228.52 L560.63 225.66 A33.77 33.77 0 0 1 551.31 234.98 Z" fill="#0080ff" stroke="#0080ff" stroke-width="0.5"/>
<path d="M557.45 244.17 A44.82 44.82 0 0 0 569.82 231.80 L564.90 228.52 A38.91 38.91 0 0 1 554.17 239.25 Z" fill="#003cff" stroke="#003cff" stroke-width="0.5"/>
<path d="M561.24 249.83 A51.64 51.64 0 0 0 575.48 235.59 L569.82 231.80 A44.82 44.82 0 0 1 557.45 244.17 Z" fill="#49006c" stroke="#49006c" stroke-width="0.5"/>
<path d="M534.67 217.58 A10.89 10.89 0 0 0 538.60 215.95 L537.80 214.76 A9.45 9.45 0 0 1 534.39 216.17 Z" fill="#ff1e00" stroke="#ff1e00" stroke-width="0.5"/>
<path d="M536.29 225.71 A19.18 19.18 0 0 0 543.20 222.85 L541.80 220.74 A16.65 16.65 0 0 1 535.80 223.23 Z" fill="#ffc300" stroke="#ffc300" stroke-width="0.5"/>
<path d="M536.86 228.57 A22.09 22.09 0 0 0 544.82 225.27 L543.20 222.85 A19.18 19.18 0 0 1 536.29 225.71 Z" fill="#c8ff00" stroke="#c8ff00" stroke-width="0.5"/>
<path d="M537.52 231.86 A25.45 25.45 0 0 0 546.69 228.06 L544.82 225.27 A22.09 22.09 0 0 1 536.86 228.57 Z" fill="#56ff00" stroke="#56ff00" stroke-width="0.5"/>
<path d="M539.14 240.03 A33.77 33.77 0 0 0 551.31 234.98 L546.69 228.06 A25.45 25.45 0 0 1 537.52 231.86 Z" fill="#00ff21" stroke="#00ff21" stroke-width="0.5"/>
<path d="M540.14 245.06 A38.91 38.91 0 0 0 554.17 239.25 L551.31 234.98 A33.77 33.77 0 0 1 539.14 240.03 Z" fill="#00ff6f" stroke="#00ff6f" stroke-width="0.5"/>
<path d="M541.29 250.86 A44.82 44.82 0 0 0 557.45 244.17 L554.17 239.25 A38.91 38.91 0 0 1 540.14 245.06 Z" fill="#00ffb3" stroke="#00ffb3" stroke-width="0.5"/>
<path d="M542.62 257.54 A51.64 51.64 0 0 0 561.24 249.83 L557.45 244.17 A44.82 44.82 0 0 1 541.29 250.86 Z" fill="#008dff" stroke="#008dff" stroke-width="0.5"/>
<path d="M525.96 240.03 A33.77 33.77 0 0 0 539.14 240.03 L537.52 231.86 A25.45 25.45 0 0 1 527.58 231.86 Z" fill="#00ff21" stroke="#00ff21" stroke-width="0.5"/>
<path d="M524.96 245.06 A38.91 38.91 0 0 0 540.14 245.06 L539.14 240.03 A33.77 33.77 0 0 1 525.96 240.03 Z" fill="#00ff6f" stroke="#00ff6f" stroke-width="0.5"/>
<path d="M523.81 250.86 A44.82 44.82 0 0 0 541.29 250.86 L540.14 245.06 A38.91 38.91 0 0 1 524.96 245.06 Z" fill="#00ffcf" stroke="#00ffcf" stroke-width="0.5"/>
<path d="M522.48 257.54 A51.64 51.64 0 0 0 542.62 257.54 L541.29 250.86 A44.82 44.82 0 0 1 523.81 250.86 Z" fill="#00deff" stroke="#00deff" stroke-width="0.5"/>
<path d="M520.95 265.24 A59.48 59.48 0 0 0 544.15 265.24 L542.62 257.54 A51.64 51.64 0 0 1 522.48 257.54 Z" fill="#0013ff" stroke="#0013ff" stroke-width="0.5"/>
</g>
<rect x="466.90" y="141.10" width="131.30" height="131.60" fill="none" stroke="#303030" stroke-width="1.35"/>
<path d="M474.19 141.10v2.60M474.19 272.70v-2.60M466.90 265.26h2.60M598.20 265.26h-2.60M481.49 141.10v2.60M481.49 272.70v-2.60M466.90 257.96h2.60M598.20 257.96h-2.60M488.78 141.10v2.60M488.78 272.70v-2.60M466.90 250.67h2.60M598.20 250.67h-2.60M496.08 141.10v5.00M496.08 272.70v-5.00M466.90 243.37h5.00M598.20 243.37h-5.00M503.37 141.10v2.60M503.37 272.70v-2.60M466.90 236.08h2.60M598.20 236.08h-2.60M510.67 141.10v2.60M510.67 272.70v-2.60M466.90 228.78h2.60M598.20 228.78h-2.60M517.96 141.10v2.60M517.96 272.70v-2.60M466.90 221.49h2.60M598.20 221.49h-2.60M525.26 141.10v2.60M525.26 272.70v-2.60M466.90 214.19h2.60M598.20 214.19h-2.60M532.55 141.10v5.00M532.55 272.70v-5.00M466.90 206.90h5.00M598.20 206.90h-5.00M539.84 141.10v2.60M539.84 272.70v-2.60M466.90 199.61h2.60M598.20 199.61h-2.60M547.14 141.10v2.60M547.14 272.70v-2.60M466.90 192.31h2.60M598.20 192.31h-2.60M554.43 141.10v2.60M554.43 272.70v-2.60M466.90 185.02h2.60M598.20 185.02h-2.60M561.73 141.10v2.60M561.73 272.70v-2.60M466.90 177.72h2.60M598.20 177.72h-2.60M569.02 141.10v5.00M569.02 272.70v-5.00M466.90 170.43h5.00M598.20 170.43h-5.00M576.32 141.10v2.60M576.32 272.70v-2.60M466.90 163.13h2.60M598.20 163.13h-2.60M583.61 141.10v2.60M583.61 272.70v-2.60M466.90 155.84h2.60M598.20 155.84h-2.60M590.91 141.10v2.60M590.91 272.70v-2.60M466.90 148.54h2.60M598.20 148.54h-2.60" stroke="#303030" stroke-width="1.15" fill="none"/>
<text transform="translate(473.90 156.90) scale(1 1.070)" font-size="15">(h)</text>
<text transform="translate(496.08 292.70) scale(1 1.070)" font-size="15" text-anchor="middle">-1000</text>
<text transform="translate(532.55 292.70) scale(1 1.070)" font-size="15" text-anchor="middle">0</text>
<text transform="translate(569.02 292.70) scale(1 1.070)" font-size="15" text-anchor="middle">1000</text>
<text transform="translate(532.55 305.80) scale(1 1.070)" font-size="15" text-anchor="middle">Vx (km/s)</text>
<rect x="113.30" y="312.00" width="424.30" height="26.30" fill="url(#cb)" stroke="#1a1a1a" stroke-width="1"/>
<text transform="translate(113.30 357.80) scale(1 1.070)" font-size="15" text-anchor="middle">-27</text>
<text transform="translate(219.38 357.80) scale(1 1.070)" font-size="15" text-anchor="middle">-26</text>
<text transform="translate(325.45 357.80) scale(1 1.070)" font-size="15" text-anchor="middle">-25</text>
<text transform="translate(431.53 357.80) scale(1 1.070)" font-size="15" text-anchor="middle">-24</text>
<text transform="translate(537.60 357.80) scale(1 1.070)" font-size="15" text-anchor="middle">-23</text>
<text transform="translate(325.5 377.6) scale(1 1.05)" font-size="15.5" text-anchor="middle">log<tspan font-size="10" dy="3">10</tspan><tspan dy="-3">f (s</tspan><tspan font-size="10" dy="-5.5">6</tspan><tspan dy="5.5">cm</tspan><tspan font-size="10" dy="-5.5">-3</tspan><tspan dy="5.5">)</tspan></text>
</svg></body></html>
